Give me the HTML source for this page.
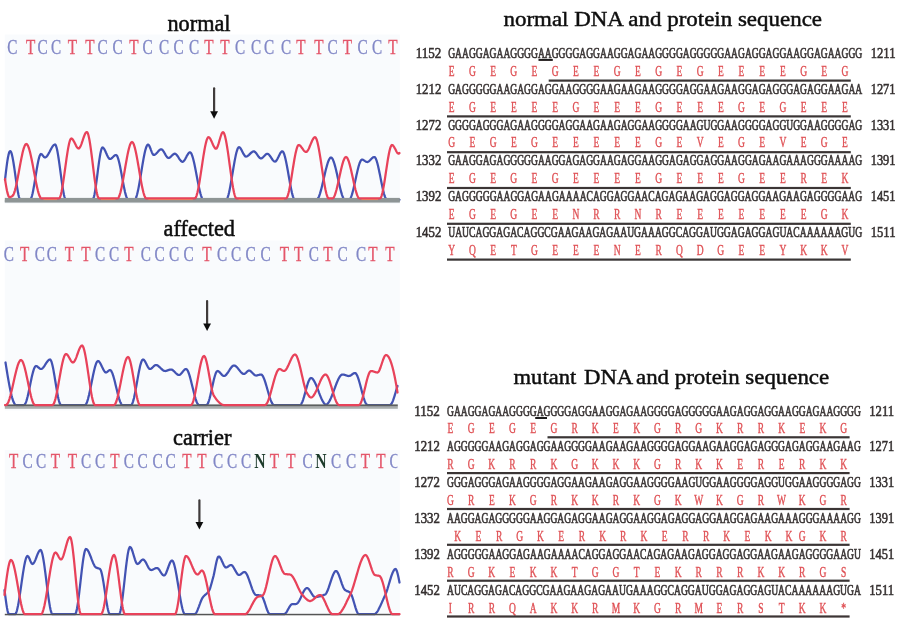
<!DOCTYPE html>
<html><head><meta charset="utf-8"><title>DNA and protein sequence</title>
<style>html,body{margin:0;padding:0;background:#fff}svg{display:block}text{font-family:'Liberation Serif', serif}</style></head><body>
<svg width="900" height="627" viewBox="0 0 900 627">
<rect width="900" height="627" fill="#ffffff"/>
<defs><filter id="soft" x="0" y="0" width="900" height="627" filterUnits="userSpaceOnUse"><feGaussianBlur stdDeviation="0.5"/></filter></defs>
<clipPath id="pc"><rect x="4.8" y="0" width="392.6" height="627"/></clipPath>
<g filter="url(#soft)">
<rect x="4.8" y="34.5" width="395" height="169.5" fill="#f9fbfd"/>
<rect x="4.8" y="240.5" width="395" height="170" fill="#f9fbfd"/>
<rect x="4.8" y="450" width="395" height="165" fill="#f9fbfd"/>
<text x="167.5" y="30.5" font-size="23.5" textLength="63.0" lengthAdjust="spacingAndGlyphs" fill="#111" stroke="#111" stroke-width="0.55">normal</text>
<text x="163.5" y="236.2" font-size="23.5" textLength="71.5" lengthAdjust="spacingAndGlyphs" fill="#111" stroke="#111" stroke-width="0.55">affected</text>
<text x="173" y="445" font-size="23.5" textLength="58.5" lengthAdjust="spacingAndGlyphs" fill="#111" stroke="#111" stroke-width="0.55">carrier</text>
<text x="12.4" y="53.9" font-size="21.8" text-anchor="middle" fill="#8187c6" stroke="#8187c6" stroke-width="0.35" transform="translate(12.4 0) scale(0.7 1) translate(-12.4 0)">C</text>
<text x="30.6" y="53.9" font-size="21.8" text-anchor="middle" fill="#e4566a" stroke="#e4566a" stroke-width="0.35" transform="translate(30.6 0) scale(0.7 1) translate(-30.6 0)">T</text>
<text x="42.5" y="53.9" font-size="21.8" text-anchor="middle" fill="#8187c6" stroke="#8187c6" stroke-width="0.35" transform="translate(42.5 0) scale(0.7 1) translate(-42.5 0)">C</text>
<text x="56" y="53.9" font-size="21.8" text-anchor="middle" fill="#8187c6" stroke="#8187c6" stroke-width="0.35" transform="translate(56 0) scale(0.7 1) translate(-56 0)">C</text>
<text x="72.5" y="53.9" font-size="21.8" text-anchor="middle" fill="#e4566a" stroke="#e4566a" stroke-width="0.35" transform="translate(72.5 0) scale(0.7 1) translate(-72.5 0)">T</text>
<text x="90" y="53.9" font-size="21.8" text-anchor="middle" fill="#e4566a" stroke="#e4566a" stroke-width="0.35" transform="translate(90 0) scale(0.7 1) translate(-90 0)">T</text>
<text x="102.5" y="53.9" font-size="21.8" text-anchor="middle" fill="#8187c6" stroke="#8187c6" stroke-width="0.35" transform="translate(102.5 0) scale(0.7 1) translate(-102.5 0)">C</text>
<text x="117.5" y="53.9" font-size="21.8" text-anchor="middle" fill="#8187c6" stroke="#8187c6" stroke-width="0.35" transform="translate(117.5 0) scale(0.7 1) translate(-117.5 0)">C</text>
<text x="134" y="53.9" font-size="21.8" text-anchor="middle" fill="#e4566a" stroke="#e4566a" stroke-width="0.35" transform="translate(134 0) scale(0.7 1) translate(-134 0)">T</text>
<text x="147.5" y="53.9" font-size="21.8" text-anchor="middle" fill="#8187c6" stroke="#8187c6" stroke-width="0.35" transform="translate(147.5 0) scale(0.7 1) translate(-147.5 0)">C</text>
<text x="164" y="53.9" font-size="21.8" text-anchor="middle" fill="#8187c6" stroke="#8187c6" stroke-width="0.35" transform="translate(164 0) scale(0.7 1) translate(-164 0)">C</text>
<text x="178.5" y="53.9" font-size="21.8" text-anchor="middle" fill="#8187c6" stroke="#8187c6" stroke-width="0.35" transform="translate(178.5 0) scale(0.7 1) translate(-178.5 0)">C</text>
<text x="194" y="53.9" font-size="21.8" text-anchor="middle" fill="#8187c6" stroke="#8187c6" stroke-width="0.35" transform="translate(194 0) scale(0.7 1) translate(-194 0)">C</text>
<text x="209" y="53.9" font-size="21.8" text-anchor="middle" fill="#e4566a" stroke="#e4566a" stroke-width="0.35" transform="translate(209 0) scale(0.7 1) translate(-209 0)">T</text>
<text x="225" y="53.9" font-size="21.8" text-anchor="middle" fill="#e4566a" stroke="#e4566a" stroke-width="0.35" transform="translate(225 0) scale(0.7 1) translate(-225 0)">T</text>
<text x="240" y="53.9" font-size="21.8" text-anchor="middle" fill="#8187c6" stroke="#8187c6" stroke-width="0.35" transform="translate(240 0) scale(0.7 1) translate(-240 0)">C</text>
<text x="256" y="53.9" font-size="21.8" text-anchor="middle" fill="#8187c6" stroke="#8187c6" stroke-width="0.35" transform="translate(256 0) scale(0.7 1) translate(-256 0)">C</text>
<text x="269" y="53.9" font-size="21.8" text-anchor="middle" fill="#8187c6" stroke="#8187c6" stroke-width="0.35" transform="translate(269 0) scale(0.7 1) translate(-269 0)">C</text>
<text x="286" y="53.9" font-size="21.8" text-anchor="middle" fill="#8187c6" stroke="#8187c6" stroke-width="0.35" transform="translate(286 0) scale(0.7 1) translate(-286 0)">C</text>
<text x="301" y="53.9" font-size="21.8" text-anchor="middle" fill="#e4566a" stroke="#e4566a" stroke-width="0.35" transform="translate(301 0) scale(0.7 1) translate(-301 0)">T</text>
<text x="319" y="53.9" font-size="21.8" text-anchor="middle" fill="#e4566a" stroke="#e4566a" stroke-width="0.35" transform="translate(319 0) scale(0.7 1) translate(-319 0)">T</text>
<text x="332.5" y="53.9" font-size="21.8" text-anchor="middle" fill="#8187c6" stroke="#8187c6" stroke-width="0.35" transform="translate(332.5 0) scale(0.7 1) translate(-332.5 0)">C</text>
<text x="347.5" y="53.9" font-size="21.8" text-anchor="middle" fill="#e4566a" stroke="#e4566a" stroke-width="0.35" transform="translate(347.5 0) scale(0.7 1) translate(-347.5 0)">T</text>
<text x="362.5" y="53.9" font-size="21.8" text-anchor="middle" fill="#8187c6" stroke="#8187c6" stroke-width="0.35" transform="translate(362.5 0) scale(0.7 1) translate(-362.5 0)">C</text>
<text x="377" y="53.9" font-size="21.8" text-anchor="middle" fill="#8187c6" stroke="#8187c6" stroke-width="0.35" transform="translate(377 0) scale(0.7 1) translate(-377 0)">C</text>
<text x="393" y="53.9" font-size="21.8" text-anchor="middle" fill="#e4566a" stroke="#e4566a" stroke-width="0.35" transform="translate(393 0) scale(0.7 1) translate(-393 0)">T</text>
<text x="8.9" y="260.7" font-size="21.8" text-anchor="middle" fill="#8187c6" stroke="#8187c6" stroke-width="0.35" transform="translate(8.9 0) scale(0.7 1) translate(-8.9 0)">C</text>
<text x="24.6" y="260.7" font-size="21.8" text-anchor="middle" fill="#e4566a" stroke="#e4566a" stroke-width="0.35" transform="translate(24.6 0) scale(0.7 1) translate(-24.6 0)">T</text>
<text x="39.8" y="260.7" font-size="21.8" text-anchor="middle" fill="#8187c6" stroke="#8187c6" stroke-width="0.35" transform="translate(39.8 0) scale(0.7 1) translate(-39.8 0)">C</text>
<text x="51.8" y="260.7" font-size="21.8" text-anchor="middle" fill="#8187c6" stroke="#8187c6" stroke-width="0.35" transform="translate(51.8 0) scale(0.7 1) translate(-51.8 0)">C</text>
<text x="69.5" y="260.7" font-size="21.8" text-anchor="middle" fill="#e4566a" stroke="#e4566a" stroke-width="0.35" transform="translate(69.5 0) scale(0.7 1) translate(-69.5 0)">T</text>
<text x="86" y="260.7" font-size="21.8" text-anchor="middle" fill="#e4566a" stroke="#e4566a" stroke-width="0.35" transform="translate(86 0) scale(0.7 1) translate(-86 0)">T</text>
<text x="100.2" y="260.7" font-size="21.8" text-anchor="middle" fill="#8187c6" stroke="#8187c6" stroke-width="0.35" transform="translate(100.2 0) scale(0.7 1) translate(-100.2 0)">C</text>
<text x="114" y="260.7" font-size="21.8" text-anchor="middle" fill="#8187c6" stroke="#8187c6" stroke-width="0.35" transform="translate(114 0) scale(0.7 1) translate(-114 0)">C</text>
<text x="129" y="260.7" font-size="21.8" text-anchor="middle" fill="#e4566a" stroke="#e4566a" stroke-width="0.35" transform="translate(129 0) scale(0.7 1) translate(-129 0)">T</text>
<text x="145.8" y="260.7" font-size="21.8" text-anchor="middle" fill="#8187c6" stroke="#8187c6" stroke-width="0.35" transform="translate(145.8 0) scale(0.7 1) translate(-145.8 0)">C</text>
<text x="159.6" y="260.7" font-size="21.8" text-anchor="middle" fill="#8187c6" stroke="#8187c6" stroke-width="0.35" transform="translate(159.6 0) scale(0.7 1) translate(-159.6 0)">C</text>
<text x="174" y="260.7" font-size="21.8" text-anchor="middle" fill="#8187c6" stroke="#8187c6" stroke-width="0.35" transform="translate(174 0) scale(0.7 1) translate(-174 0)">C</text>
<text x="188.6" y="260.7" font-size="21.8" text-anchor="middle" fill="#8187c6" stroke="#8187c6" stroke-width="0.35" transform="translate(188.6 0) scale(0.7 1) translate(-188.6 0)">C</text>
<text x="206.8" y="260.7" font-size="21.8" text-anchor="middle" fill="#e4566a" stroke="#e4566a" stroke-width="0.35" transform="translate(206.8 0) scale(0.7 1) translate(-206.8 0)">T</text>
<text x="222" y="260.7" font-size="21.8" text-anchor="middle" fill="#8187c6" stroke="#8187c6" stroke-width="0.35" transform="translate(222 0) scale(0.7 1) translate(-222 0)">C</text>
<text x="236" y="260.7" font-size="21.8" text-anchor="middle" fill="#8187c6" stroke="#8187c6" stroke-width="0.35" transform="translate(236 0) scale(0.7 1) translate(-236 0)">C</text>
<text x="250.5" y="260.7" font-size="21.8" text-anchor="middle" fill="#8187c6" stroke="#8187c6" stroke-width="0.35" transform="translate(250.5 0) scale(0.7 1) translate(-250.5 0)">C</text>
<text x="265.5" y="260.7" font-size="21.8" text-anchor="middle" fill="#8187c6" stroke="#8187c6" stroke-width="0.35" transform="translate(265.5 0) scale(0.7 1) translate(-265.5 0)">C</text>
<text x="284.5" y="260.7" font-size="21.8" text-anchor="middle" fill="#e4566a" stroke="#e4566a" stroke-width="0.35" transform="translate(284.5 0) scale(0.7 1) translate(-284.5 0)">T</text>
<text x="298.75" y="260.7" font-size="21.8" text-anchor="middle" fill="#e4566a" stroke="#e4566a" stroke-width="0.35" transform="translate(298.75 0) scale(0.7 1) translate(-298.75 0)">T</text>
<text x="313.75" y="260.7" font-size="21.8" text-anchor="middle" fill="#8187c6" stroke="#8187c6" stroke-width="0.35" transform="translate(313.75 0) scale(0.7 1) translate(-313.75 0)">C</text>
<text x="328" y="260.7" font-size="21.8" text-anchor="middle" fill="#e4566a" stroke="#e4566a" stroke-width="0.35" transform="translate(328 0) scale(0.7 1) translate(-328 0)">T</text>
<text x="342.5" y="260.7" font-size="21.8" text-anchor="middle" fill="#8187c6" stroke="#8187c6" stroke-width="0.35" transform="translate(342.5 0) scale(0.7 1) translate(-342.5 0)">C</text>
<text x="361" y="260.7" font-size="21.8" text-anchor="middle" fill="#8187c6" stroke="#8187c6" stroke-width="0.35" transform="translate(361 0) scale(0.7 1) translate(-361 0)">C</text>
<text x="373" y="260.7" font-size="21.8" text-anchor="middle" fill="#e4566a" stroke="#e4566a" stroke-width="0.35" transform="translate(373 0) scale(0.7 1) translate(-373 0)">T</text>
<text x="390" y="260.7" font-size="21.8" text-anchor="middle" fill="#e4566a" stroke="#e4566a" stroke-width="0.35" transform="translate(390 0) scale(0.7 1) translate(-390 0)">T</text>
<g clip-path="url(#pc)">
<text x="13.75" y="468.5" font-size="21.8" text-anchor="middle" fill="#e4566a" stroke="#e4566a" stroke-width="0.35" transform="translate(13.75 0) scale(0.7 1) translate(-13.75 0)">T</text>
<text x="27.5" y="468.5" font-size="21.8" text-anchor="middle" fill="#8187c6" stroke="#8187c6" stroke-width="0.35" transform="translate(27.5 0) scale(0.7 1) translate(-27.5 0)">C</text>
<text x="41" y="468.5" font-size="21.8" text-anchor="middle" fill="#8187c6" stroke="#8187c6" stroke-width="0.35" transform="translate(41 0) scale(0.7 1) translate(-41 0)">C</text>
<text x="55.5" y="468.5" font-size="21.8" text-anchor="middle" fill="#e4566a" stroke="#e4566a" stroke-width="0.35" transform="translate(55.5 0) scale(0.7 1) translate(-55.5 0)">T</text>
<text x="72.5" y="468.5" font-size="21.8" text-anchor="middle" fill="#e4566a" stroke="#e4566a" stroke-width="0.35" transform="translate(72.5 0) scale(0.7 1) translate(-72.5 0)">T</text>
<text x="86" y="468.5" font-size="21.8" text-anchor="middle" fill="#8187c6" stroke="#8187c6" stroke-width="0.35" transform="translate(86 0) scale(0.7 1) translate(-86 0)">C</text>
<text x="100" y="468.5" font-size="21.8" text-anchor="middle" fill="#8187c6" stroke="#8187c6" stroke-width="0.35" transform="translate(100 0) scale(0.7 1) translate(-100 0)">C</text>
<text x="115" y="468.5" font-size="21.8" text-anchor="middle" fill="#e4566a" stroke="#e4566a" stroke-width="0.35" transform="translate(115 0) scale(0.7 1) translate(-115 0)">T</text>
<text x="128.75" y="468.5" font-size="21.8" text-anchor="middle" fill="#8187c6" stroke="#8187c6" stroke-width="0.35" transform="translate(128.75 0) scale(0.7 1) translate(-128.75 0)">C</text>
<text x="142.5" y="468.5" font-size="21.8" text-anchor="middle" fill="#8187c6" stroke="#8187c6" stroke-width="0.35" transform="translate(142.5 0) scale(0.7 1) translate(-142.5 0)">C</text>
<text x="157.5" y="468.5" font-size="21.8" text-anchor="middle" fill="#8187c6" stroke="#8187c6" stroke-width="0.35" transform="translate(157.5 0) scale(0.7 1) translate(-157.5 0)">C</text>
<text x="170.5" y="468.5" font-size="21.8" text-anchor="middle" fill="#8187c6" stroke="#8187c6" stroke-width="0.35" transform="translate(170.5 0) scale(0.7 1) translate(-170.5 0)">C</text>
<text x="187" y="468.5" font-size="21.8" text-anchor="middle" fill="#e4566a" stroke="#e4566a" stroke-width="0.35" transform="translate(187 0) scale(0.7 1) translate(-187 0)">T</text>
<text x="202" y="468.5" font-size="21.8" text-anchor="middle" fill="#e4566a" stroke="#e4566a" stroke-width="0.35" transform="translate(202 0) scale(0.7 1) translate(-202 0)">T</text>
<text x="218" y="468.5" font-size="21.8" text-anchor="middle" fill="#8187c6" stroke="#8187c6" stroke-width="0.35" transform="translate(218 0) scale(0.7 1) translate(-218 0)">C</text>
<text x="232" y="468.5" font-size="21.8" text-anchor="middle" fill="#8187c6" stroke="#8187c6" stroke-width="0.35" transform="translate(232 0) scale(0.7 1) translate(-232 0)">C</text>
<text x="246" y="468.5" font-size="21.8" text-anchor="middle" fill="#8187c6" stroke="#8187c6" stroke-width="0.35" transform="translate(246 0) scale(0.7 1) translate(-246 0)">C</text>
<text x="260" y="468.5" font-size="21.8" text-anchor="middle" fill="#1d3b2c" font-weight="bold" transform="translate(260 0) scale(0.72 1) translate(-260 0)">N</text>
<text x="274.5" y="468.5" font-size="21.8" text-anchor="middle" fill="#e4566a" stroke="#e4566a" stroke-width="0.35" transform="translate(274.5 0) scale(0.7 1) translate(-274.5 0)">T</text>
<text x="291" y="468.5" font-size="21.8" text-anchor="middle" fill="#e4566a" stroke="#e4566a" stroke-width="0.35" transform="translate(291 0) scale(0.7 1) translate(-291 0)">T</text>
<text x="307.5" y="468.5" font-size="21.8" text-anchor="middle" fill="#8187c6" stroke="#8187c6" stroke-width="0.35" transform="translate(307.5 0) scale(0.7 1) translate(-307.5 0)">C</text>
<text x="321" y="468.5" font-size="21.8" text-anchor="middle" fill="#1d3b2c" font-weight="bold" transform="translate(321 0) scale(0.72 1) translate(-321 0)">N</text>
<text x="336" y="468.5" font-size="21.8" text-anchor="middle" fill="#8187c6" stroke="#8187c6" stroke-width="0.35" transform="translate(336 0) scale(0.7 1) translate(-336 0)">C</text>
<text x="351" y="468.5" font-size="21.8" text-anchor="middle" fill="#8187c6" stroke="#8187c6" stroke-width="0.35" transform="translate(351 0) scale(0.7 1) translate(-351 0)">C</text>
<text x="365.5" y="468.5" font-size="21.8" text-anchor="middle" fill="#e4566a" stroke="#e4566a" stroke-width="0.35" transform="translate(365.5 0) scale(0.7 1) translate(-365.5 0)">T</text>
<text x="381" y="468.5" font-size="21.8" text-anchor="middle" fill="#e4566a" stroke="#e4566a" stroke-width="0.35" transform="translate(381 0) scale(0.7 1) translate(-381 0)">T</text>
<text x="394.5" y="468.5" font-size="21.8" text-anchor="middle" fill="#8187c6" stroke="#8187c6" stroke-width="0.35" transform="translate(394.5 0) scale(0.7 1) translate(-394.5 0)">C</text>
</g>
<path d="M214.1,88.3 L214.1,112.8" stroke="#3f3a3a" stroke-width="2.2" stroke-linecap="round" fill="none"/>
<path d="M210.2,111.3 L218.0,111.3 L214.1,118.8 Z" fill="#111"/>
<path d="M207.1,301 L207.1,325" stroke="#3f3a3a" stroke-width="2.2" stroke-linecap="round" fill="none"/>
<path d="M203.2,323.5 L211.0,323.5 L207.1,331 Z" fill="#111"/>
<path d="M199.4,500.4 L199.4,523.5" stroke="#3f3a3a" stroke-width="2.2" stroke-linecap="round" fill="none"/>
<path d="M195.5,522.0 L203.3,522.0 L199.4,529.5 Z" fill="#111"/>
<path d="M5.0,180.0 L5.5,175.6 L6.0,171.3 L6.5,167.3 L7.0,163.6 L7.5,160.2 L8.0,157.3 L8.5,154.9 L9.0,153.0 L9.5,151.7 L10.0,151.1 L10.5,151.1 L11.0,151.8 L11.5,153.1 L12.0,155.0 L12.5,157.2 L13.0,159.9 L13.5,162.8 L14.0,166.0 L14.5,169.4 L15.0,172.9 L15.5,176.5 L16.0,180.0 L16.5,183.4 L17.0,186.7 L17.5,189.8 L18.0,192.6 L18.5,195.0 L19.0,197.0 L19.5,198.5 L20.0,199.5 L20.5,199.8 L21.0,199.8 L21.5,199.8 L22.0,199.8 L22.5,199.8 L23.0,199.8 L23.5,199.8 L24.0,199.8 L24.5,199.8 L25.0,199.8 L25.5,199.8 L26.0,199.8 L26.5,199.8 L27.0,199.8 L27.5,199.8 L28.0,199.8 L28.5,199.8 L29.0,199.8 L29.5,199.8 L30.0,199.8 L30.5,199.5 L31.0,198.7 L31.5,197.5 L32.0,195.8 L32.5,193.8 L33.0,191.4 L33.5,188.8 L34.0,186.0 L34.5,183.1 L35.0,180.0 L35.5,176.9 L36.0,173.8 L36.5,170.7 L37.0,167.8 L37.5,165.0 L38.0,162.4 L38.5,160.0 L39.0,158.0 L39.5,156.3 L40.0,155.1 L40.5,154.3 L41.0,154.0 L41.5,154.2 L42.0,154.5 L42.5,155.1 L43.0,155.8 L43.5,156.4 L44.0,157.0 L44.5,157.3 L45.0,157.5 L45.5,157.4 L46.0,157.1 L46.5,156.7 L47.0,156.1 L47.5,155.5 L48.0,154.7 L48.5,153.8 L49.0,152.9 L49.5,152.0 L50.0,151.0 L50.5,150.0 L51.0,149.1 L51.5,148.2 L52.0,147.3 L52.5,146.5 L53.0,145.9 L53.5,145.3 L54.0,144.9 L54.5,144.6 L55.0,144.5 L55.5,144.8 L56.0,145.8 L56.5,147.3 L57.0,149.3 L57.5,151.8 L58.0,154.6 L58.5,157.7 L59.0,161.1 L59.5,164.7 L60.0,168.4 L60.5,172.2 L61.0,175.9 L61.5,179.6 L62.0,183.2 L62.5,186.6 L63.0,189.7 L63.5,192.5 L64.0,195.0 L64.5,197.0 L65.0,198.5 L65.5,199.5 L66.0,199.8 L66.5,199.8 L67.0,199.8 L67.5,199.8 L68.0,199.8 L68.5,199.8 L69.0,199.8 L69.5,199.8 L70.0,199.8 L70.5,199.8 L71.0,199.8 L71.5,199.8 L72.0,199.8 L72.5,199.8 L73.0,199.8 L73.5,199.8 L74.0,199.8 L74.5,199.8 L75.0,199.8 L75.5,199.8 L76.0,199.8 L76.5,199.8 L77.0,199.8 L77.5,199.8 L78.0,199.8 L78.5,199.8 L79.0,199.8 L79.5,199.8 L80.0,199.8 L80.5,199.8 L81.0,199.8 L81.5,199.8 L82.0,199.8 L82.5,199.8 L83.0,199.8 L83.5,199.8 L84.0,199.8 L84.5,199.8 L85.0,199.8 L85.5,199.8 L86.0,199.8 L86.5,199.8 L87.0,199.8 L87.5,199.8 L88.0,199.8 L88.5,199.8 L89.0,199.8 L89.5,199.8 L90.0,199.8 L90.5,199.8 L91.0,199.8 L91.5,199.8 L92.0,199.8 L92.5,199.8 L93.0,199.4 L93.5,198.3 L94.0,196.6 L94.5,194.4 L95.0,191.6 L95.5,188.5 L96.0,185.1 L96.5,181.4 L97.0,177.6 L97.5,173.6 L98.0,169.7 L98.5,165.9 L99.0,162.2 L99.5,158.8 L100.0,155.7 L100.5,152.9 L101.0,150.7 L101.5,149.0 L102.0,147.9 L102.5,147.5 L103.0,147.6 L103.5,148.1 L104.0,148.7 L104.5,149.5 L105.0,150.5 L105.5,151.5 L106.0,152.7 L106.5,153.8 L107.0,155.0 L107.5,156.0 L108.0,157.0 L108.5,157.8 L109.0,158.4 L109.5,158.9 L110.0,159.0 L110.5,158.9 L111.0,158.7 L111.5,158.4 L112.0,158.0 L112.5,157.5 L113.0,157.0 L113.5,156.5 L114.0,156.0 L114.5,155.6 L115.0,155.3 L115.5,155.1 L116.0,155.0 L116.5,155.2 L117.0,155.8 L117.5,156.8 L118.0,158.2 L118.5,159.8 L119.0,161.7 L119.5,163.8 L120.0,166.1 L120.5,168.6 L121.0,171.2 L121.5,173.9 L122.0,176.6 L122.5,179.3 L123.0,182.0 L123.5,184.7 L124.0,187.2 L124.5,189.6 L125.0,191.9 L125.5,193.9 L126.0,195.7 L126.5,197.2 L127.0,198.4 L127.5,199.3 L128.0,199.7 L128.5,199.8 L129.0,199.8 L129.5,199.8 L130.0,199.8 L130.5,199.8 L131.0,199.8 L131.5,199.8 L132.0,199.8 L132.5,199.8 L133.0,199.8 L133.5,199.8 L134.0,199.8 L134.5,199.8 L135.0,199.6 L135.5,198.9 L136.0,197.9 L136.5,196.5 L137.0,194.8 L137.5,192.8 L138.0,190.6 L138.5,188.1 L139.0,185.5 L139.5,182.7 L140.0,179.8 L140.5,176.8 L141.0,173.7 L141.5,170.7 L142.0,167.6 L142.5,164.6 L143.0,161.7 L143.5,158.9 L144.0,156.3 L144.5,153.8 L145.0,151.6 L145.5,149.6 L146.0,147.9 L146.5,146.5 L147.0,145.5 L147.5,144.8 L148.0,144.6 L148.5,144.8 L149.0,145.4 L149.5,146.3 L150.0,147.5 L150.5,148.7 L151.0,150.1 L151.5,151.4 L152.0,152.6 L152.5,153.7 L153.0,154.5 L153.5,154.9 L154.0,155.0 L154.5,154.9 L155.0,154.6 L155.5,154.2 L156.0,153.8 L156.5,153.3 L157.0,152.7 L157.5,152.2 L158.0,151.6 L158.5,151.0 L159.0,150.5 L159.5,150.1 L160.0,149.7 L160.5,149.4 L161.0,149.3 L161.5,149.3 L162.0,149.6 L162.5,150.0 L163.0,150.6 L163.5,151.3 L164.0,152.2 L164.5,153.0 L165.0,153.9 L165.5,154.8 L166.0,155.6 L166.5,156.4 L167.0,157.0 L167.5,157.6 L168.0,157.9 L168.5,158.0 L169.0,157.9 L169.5,157.7 L170.0,157.4 L170.5,157.0 L171.0,156.5 L171.5,156.0 L172.0,155.5 L172.5,155.0 L173.0,154.6 L173.5,154.2 L174.0,153.9 L174.5,153.7 L175.0,153.7 L175.5,153.9 L176.0,154.2 L176.5,154.7 L177.0,155.3 L177.5,156.0 L178.0,156.7 L178.5,157.5 L179.0,158.3 L179.5,159.1 L180.0,159.8 L180.5,160.4 L181.0,161.0 L181.5,161.4 L182.0,161.7 L182.5,161.8 L183.0,161.7 L183.5,161.3 L184.0,160.8 L184.5,160.1 L185.0,159.3 L185.5,158.5 L186.0,157.5 L186.5,156.6 L187.0,155.6 L187.5,154.8 L188.0,154.0 L188.5,153.3 L189.0,152.8 L189.5,152.4 L190.0,152.3 L190.5,152.5 L191.0,153.0 L191.5,153.9 L192.0,155.1 L192.5,156.6 L193.0,158.3 L193.5,160.2 L194.0,162.3 L194.5,164.6 L195.0,167.0 L195.5,169.5 L196.0,172.1 L196.5,174.7 L197.0,177.4 L197.5,180.0 L198.0,182.6 L198.5,185.1 L199.0,187.5 L199.5,189.8 L200.0,191.9 L200.5,193.8 L201.0,195.5 L201.5,197.0 L202.0,198.2 L202.5,199.1 L203.0,199.6 L203.5,199.8 L204.0,199.8 L204.5,199.8 L205.0,199.8 L205.5,199.8 L206.0,199.8 L206.5,199.8 L207.0,199.8 L207.5,199.8 L208.0,199.8 L208.5,199.8 L209.0,199.8 L209.5,199.8 L210.0,199.8 L210.5,199.8 L211.0,199.8 L211.5,199.8 L212.0,199.8 L212.5,199.8 L213.0,199.8 L213.5,199.8 L214.0,199.8 L214.5,199.8 L215.0,199.8 L215.5,199.8 L216.0,199.8 L216.5,199.8 L217.0,199.8 L217.5,199.8 L218.0,199.8 L218.5,199.8 L219.0,199.8 L219.5,199.8 L220.0,199.8 L220.5,199.8 L221.0,199.8 L221.5,199.8 L222.0,199.8 L222.5,199.8 L223.0,199.8 L223.5,199.8 L224.0,199.8 L224.5,199.8 L225.0,199.8 L225.5,199.8 L226.0,199.8 L226.5,199.6 L227.0,198.9 L227.5,197.9 L228.0,196.4 L228.5,194.7 L229.0,192.7 L229.5,190.4 L230.0,187.9 L230.5,185.3 L231.0,182.4 L231.5,179.5 L232.0,176.5 L232.5,173.5 L233.0,170.5 L233.5,167.5 L234.0,164.6 L234.5,161.7 L235.0,159.1 L235.5,156.6 L236.0,154.3 L236.5,152.3 L237.0,150.6 L237.5,149.1 L238.0,148.1 L238.5,147.4 L239.0,147.2 L239.5,147.3 L240.0,147.7 L240.5,148.3 L241.0,149.1 L241.5,149.9 L242.0,150.9 L242.5,151.9 L243.0,152.9 L243.5,153.9 L244.0,154.7 L244.5,155.5 L245.0,156.1 L245.5,156.5 L246.0,156.6 L246.5,156.5 L247.0,156.4 L247.5,156.1 L248.0,155.7 L248.5,155.3 L249.0,154.9 L249.5,154.4 L250.0,153.9 L250.5,153.4 L251.0,152.9 L251.5,152.5 L252.0,152.1 L252.5,151.8 L253.0,151.5 L253.5,151.4 L254.0,151.4 L254.5,151.6 L255.0,152.0 L255.5,152.4 L256.0,153.0 L256.5,153.7 L257.0,154.4 L257.5,155.1 L258.0,155.8 L258.5,156.5 L259.0,157.1 L259.5,157.6 L260.0,158.0 L260.5,158.3 L261.0,158.4 L261.5,158.3 L262.0,158.1 L262.5,157.7 L263.0,157.3 L263.5,156.8 L264.0,156.3 L264.5,155.7 L265.0,155.2 L265.5,154.7 L266.0,154.3 L266.5,154.0 L267.0,153.8 L267.5,153.8 L268.0,154.0 L268.5,154.3 L269.0,154.8 L269.5,155.3 L270.0,156.0 L270.5,156.7 L271.0,157.5 L271.5,158.2 L272.0,159.0 L272.5,159.7 L273.0,160.3 L273.5,160.8 L274.0,161.2 L274.5,161.5 L275.0,161.6 L275.5,161.5 L276.0,161.1 L276.5,160.5 L277.0,159.7 L277.5,158.8 L278.0,157.8 L278.5,156.8 L279.0,155.7 L279.5,154.7 L280.0,153.7 L280.5,152.9 L281.0,152.2 L281.5,151.6 L282.0,151.4 L282.5,151.3 L283.0,151.7 L283.5,152.5 L284.0,153.7 L284.5,155.2 L285.0,156.9 L285.5,159.0 L286.0,161.3 L286.5,163.7 L287.0,166.3 L287.5,169.0 L288.0,171.8 L288.5,174.7 L289.0,177.6 L289.5,180.4 L290.0,183.2 L290.5,185.8 L291.0,188.4 L291.5,190.8 L292.0,193.0 L292.5,194.9 L293.0,196.6 L293.5,197.9 L294.0,198.9 L294.5,199.6 L295.0,199.8 L295.5,199.8 L296.0,199.8 L296.5,199.8 L297.0,199.8 L297.5,199.8 L298.0,199.8 L298.5,199.8 L299.0,199.8 L299.5,199.8 L300.0,199.8 L300.5,199.8 L301.0,199.8 L301.5,199.8 L302.0,199.8 L302.5,199.8 L303.0,199.8 L303.5,199.8 L304.0,199.8 L304.5,199.8 L305.0,199.8 L305.5,199.8 L306.0,199.8 L306.5,199.8 L307.0,199.8 L307.5,199.8 L308.0,199.8 L308.5,199.8 L309.0,199.8 L309.5,199.8 L310.0,199.8 L310.5,199.8 L311.0,199.8 L311.5,199.8 L312.0,199.8 L312.5,199.8 L313.0,199.8 L313.5,199.8 L314.0,199.8 L314.5,199.8 L315.0,199.8 L315.5,199.8 L316.0,199.8 L316.5,199.8 L317.0,199.7 L317.5,199.2 L318.0,198.5 L318.5,197.6 L319.0,196.5 L319.5,195.1 L320.0,193.6 L320.5,191.9 L321.0,190.1 L321.5,188.2 L322.0,186.2 L322.5,184.1 L323.0,181.9 L323.5,179.7 L324.0,177.6 L324.5,175.4 L325.0,173.2 L325.5,171.1 L326.0,169.1 L326.5,167.2 L327.0,165.4 L327.5,163.7 L328.0,162.2 L328.5,160.8 L329.0,159.7 L329.5,158.8 L330.0,158.1 L330.5,157.6 L331.0,157.5 L331.5,157.7 L332.0,158.1 L332.5,158.9 L333.0,159.8 L333.5,161.1 L334.0,162.5 L334.5,164.1 L335.0,165.9 L335.5,167.8 L336.0,169.8 L336.5,172.0 L337.0,174.1 L337.5,176.4 L338.0,178.7 L338.5,180.9 L339.0,183.2 L339.5,185.3 L340.0,187.5 L340.5,189.5 L341.0,191.4 L341.5,193.2 L342.0,194.8 L342.5,196.2 L343.0,197.5 L343.5,198.4 L344.0,199.2 L344.5,199.6 L345.0,199.8 L345.5,199.8 L346.0,199.8 L346.5,199.8 L347.0,199.8 L347.5,199.8 L348.0,199.8 L348.5,199.8 L349.0,199.8 L349.5,199.6 L350.0,199.1 L350.5,198.3 L351.0,197.2 L351.5,195.9 L352.0,194.4 L352.5,192.6 L353.0,190.7 L353.5,188.7 L354.0,186.5 L354.5,184.3 L355.0,182.0 L355.5,179.7 L356.0,177.4 L356.5,175.1 L357.0,172.9 L357.5,170.7 L358.0,168.7 L358.5,166.8 L359.0,165.0 L359.5,163.5 L360.0,162.2 L360.5,161.1 L361.0,160.3 L361.5,159.8 L362.0,159.6 L362.5,159.7 L363.0,159.8 L363.5,160.1 L364.0,160.4 L364.5,160.7 L365.0,161.1 L365.5,161.4 L366.0,161.7 L366.5,161.9 L367.0,162.0 L367.5,162.0 L368.0,161.8 L368.5,161.6 L369.0,161.2 L369.5,160.8 L370.0,160.3 L370.5,159.8 L371.0,159.2 L371.5,158.7 L372.0,158.2 L372.5,157.8 L373.0,157.4 L373.5,157.2 L374.0,157.0 L374.5,157.0 L375.0,157.4 L375.5,158.1 L376.0,159.1 L376.5,160.4 L377.0,162.0 L377.5,163.8 L378.0,165.8 L378.5,167.9 L379.0,170.2 L379.5,172.7 L380.0,175.1 L380.5,177.6 L381.0,180.2 L381.5,182.7 L382.0,185.1 L382.5,187.5 L383.0,189.7 L383.5,191.8 L384.0,193.8 L384.5,195.5 L385.0,196.9 L385.5,198.1 L386.0,199.0 L386.5,199.6 L387.0,199.8 L387.5,199.8 L388.0,199.8 L388.5,199.8 L389.0,199.8 L389.5,199.8 L390.0,199.8 L390.5,199.8 L391.0,199.8 L391.5,199.8 L392.0,199.8 L392.5,199.8 L393.0,199.8 L393.5,199.8 L394.0,199.8 L394.5,199.8 L395.0,199.8 L395.5,199.8 L396.0,199.8 L396.5,199.8 L397.0,199.8 L397.5,199.8 L398.0,199.8 L398.5,199.8 L399.0,199.8 L399.5,199.8" fill="none" stroke="#4353b3" stroke-width="2.25" stroke-linejoin="round" stroke-linecap="round"/>
<rect x="4.8" y="197.9" width="395" height="4.5" fill="#8e9595"/>
<path d="M43.5,199.6 L57.0,199.6 M101.0,199.6 L115.5,199.6 M148.3,199.6 L192.8,199.6 M238.5,199.6 L284.0,199.6 M330.8,199.6 L330.5,199.6 M361.5,199.6 L378.0,199.6" fill="none" stroke="#f3a95c" stroke-width="1.2"/>
<path d="M5.0,179.0 L5.5,182.3 L6.0,185.4 L6.5,188.2 L7.0,190.7 L7.5,192.9 L8.0,194.7 L8.5,196.1 L9.0,196.9 L9.5,197.2 L10.0,197.1 L10.5,197.0 L11.0,196.8 L11.5,196.5 L12.0,196.2 L12.5,195.9 L13.0,195.4 L13.5,194.6 L14.0,193.4 L14.5,192.0 L15.0,190.3 L15.5,188.4 L16.0,186.3 L16.5,184.0 L17.0,181.6 L17.5,179.0 L18.0,176.4 L18.5,173.7 L19.0,171.0 L19.5,168.3 L20.0,165.5 L20.5,162.9 L21.0,160.3 L21.5,157.7 L22.0,155.4 L22.5,153.1 L23.0,151.1 L23.5,149.2 L24.0,147.6 L24.5,146.3 L25.0,145.2 L25.5,144.5 L26.0,144.1 L26.5,144.0 L27.0,144.3 L27.5,145.0 L28.0,145.9 L28.5,147.1 L29.0,148.5 L29.5,150.2 L30.0,152.1 L30.5,154.2 L31.0,156.4 L31.5,158.7 L32.0,161.2 L32.5,163.8 L33.0,166.4 L33.5,169.1 L34.0,171.7 L34.5,174.4 L35.0,177.1 L35.5,179.7 L36.0,182.2 L36.5,184.6 L37.0,186.9 L37.5,189.1 L38.0,191.1 L38.5,192.9 L39.0,194.5 L39.5,195.8 L40.0,196.9 L40.5,197.7 L41.0,198.2 L41.5,198.4 L42.0,198.4 L42.5,198.4 L43.0,198.4 L43.5,198.4 L44.0,198.4 L44.5,198.4 L45.0,198.4 L45.5,198.4 L46.0,198.4 L46.5,198.4 L47.0,198.4 L47.5,198.4 L48.0,198.4 L48.5,198.4 L49.0,198.4 L49.5,198.4 L50.0,198.4 L50.5,198.4 L51.0,198.4 L51.5,198.4 L52.0,198.4 L52.5,198.4 L53.0,198.4 L53.5,198.4 L54.0,198.4 L54.5,198.4 L55.0,198.4 L55.5,198.4 L56.0,198.4 L56.5,198.4 L57.0,198.4 L57.5,198.4 L58.0,198.4 L58.5,198.4 L59.0,198.4 L59.5,198.1 L60.0,197.3 L60.5,195.9 L61.0,194.2 L61.5,192.0 L62.0,189.4 L62.5,186.6 L63.0,183.5 L63.5,180.2 L64.0,176.8 L64.5,173.2 L65.0,169.5 L65.5,165.9 L66.0,162.3 L66.5,158.7 L67.0,155.3 L67.5,152.1 L68.0,149.1 L68.5,146.4 L69.0,144.0 L69.5,142.0 L70.0,140.4 L70.5,139.2 L71.0,138.6 L71.5,138.5 L72.0,138.8 L72.5,139.2 L73.0,139.9 L73.5,140.7 L74.0,141.6 L74.5,142.6 L75.0,143.6 L75.5,144.6 L76.0,145.6 L76.5,146.5 L77.0,147.3 L77.5,147.9 L78.0,148.3 L78.5,148.5 L79.0,148.4 L79.5,147.9 L80.0,147.2 L80.5,146.3 L81.0,145.1 L81.5,143.8 L82.0,142.3 L82.5,140.9 L83.0,139.3 L83.5,137.9 L84.0,136.5 L84.5,135.2 L85.0,134.0 L85.5,133.1 L86.0,132.4 L86.5,132.1 L87.0,132.1 L87.5,132.6 L88.0,133.8 L88.5,135.5 L89.0,137.7 L89.5,140.3 L90.0,143.3 L90.5,146.6 L91.0,150.2 L91.5,154.0 L92.0,157.9 L92.5,161.9 L93.0,166.0 L93.5,170.1 L94.0,174.1 L94.5,178.0 L95.0,181.7 L95.5,185.1 L96.0,188.3 L96.5,191.2 L97.0,193.6 L97.5,195.6 L98.0,197.1 L98.5,198.1 L99.0,198.4 L99.5,198.4 L100.0,198.4 L100.5,198.4 L101.0,198.4 L101.5,198.4 L102.0,198.4 L102.5,198.4 L103.0,198.4 L103.5,198.4 L104.0,198.4 L104.5,198.4 L105.0,198.4 L105.5,198.4 L106.0,198.4 L106.5,198.4 L107.0,198.4 L107.5,198.4 L108.0,198.4 L108.5,198.4 L109.0,198.4 L109.5,198.4 L110.0,198.4 L110.5,198.4 L111.0,198.4 L111.5,198.4 L112.0,198.4 L112.5,198.4 L113.0,198.4 L113.5,198.4 L114.0,198.4 L114.5,198.4 L115.0,198.4 L115.5,198.4 L116.0,198.4 L116.5,198.4 L117.0,198.4 L117.5,198.4 L118.0,198.2 L118.5,197.6 L119.0,196.7 L119.5,195.5 L120.0,193.9 L120.5,192.2 L121.0,190.1 L121.5,187.9 L122.0,185.5 L122.5,182.9 L123.0,180.2 L123.5,177.4 L124.0,174.6 L124.5,171.7 L125.0,168.7 L125.5,165.8 L126.0,163.0 L126.5,160.2 L127.0,157.5 L127.5,154.9 L128.0,152.5 L128.5,150.3 L129.0,148.2 L129.5,146.5 L130.0,144.9 L130.5,143.7 L131.0,142.8 L131.5,142.2 L132.0,142.0 L132.5,142.2 L133.0,142.8 L133.5,143.7 L134.0,145.0 L134.5,146.6 L135.0,148.4 L135.5,150.5 L136.0,152.8 L136.5,155.2 L137.0,157.9 L137.5,160.6 L138.0,163.5 L138.5,166.4 L139.0,169.3 L139.5,172.3 L140.0,175.2 L140.5,178.1 L141.0,180.9 L141.5,183.6 L142.0,186.2 L142.5,188.6 L143.0,190.8 L143.5,192.8 L144.0,194.5 L144.5,195.9 L145.0,197.1 L145.5,197.9 L146.0,198.3 L146.5,198.4 L147.0,198.4 L147.5,198.4 L148.0,198.4 L148.5,198.4 L149.0,198.4 L149.5,198.4 L150.0,198.4 L150.5,198.4 L151.0,198.4 L151.5,198.4 L152.0,198.4 L152.5,198.4 L153.0,198.4 L153.5,198.4 L154.0,198.4 L154.5,198.4 L155.0,198.4 L155.5,198.4 L156.0,198.4 L156.5,198.4 L157.0,198.4 L157.5,198.4 L158.0,198.4 L158.5,198.4 L159.0,198.4 L159.5,198.4 L160.0,198.4 L160.5,198.4 L161.0,198.4 L161.5,198.4 L162.0,198.4 L162.5,198.4 L163.0,198.4 L163.5,198.4 L164.0,198.4 L164.5,198.4 L165.0,198.4 L165.5,198.4 L166.0,198.4 L166.5,198.4 L167.0,198.4 L167.5,198.4 L168.0,198.4 L168.5,198.4 L169.0,198.4 L169.5,198.4 L170.0,198.4 L170.5,198.4 L171.0,198.4 L171.5,198.4 L172.0,198.4 L172.5,198.4 L173.0,198.4 L173.5,198.4 L174.0,198.4 L174.5,198.4 L175.0,198.4 L175.5,198.4 L176.0,198.4 L176.5,198.4 L177.0,198.4 L177.5,198.4 L178.0,198.4 L178.5,198.4 L179.0,198.4 L179.5,198.4 L180.0,198.4 L180.5,198.4 L181.0,198.4 L181.5,198.4 L182.0,198.4 L182.5,198.4 L183.0,198.4 L183.5,198.4 L184.0,198.4 L184.5,198.4 L185.0,198.4 L185.5,198.4 L186.0,198.4 L186.5,198.4 L187.0,198.4 L187.5,198.4 L188.0,198.4 L188.5,198.4 L189.0,198.4 L189.5,198.4 L190.0,198.4 L190.5,198.4 L191.0,198.4 L191.5,198.4 L192.0,198.4 L192.5,198.4 L193.0,198.4 L193.5,198.4 L194.0,198.4 L194.5,198.4 L195.0,198.4 L195.5,197.9 L196.0,197.1 L196.5,195.8 L197.0,194.2 L197.5,192.2 L198.0,189.9 L198.5,187.4 L199.0,184.7 L199.5,181.7 L200.0,178.6 L200.5,175.4 L201.0,172.1 L201.5,168.8 L202.0,165.5 L202.5,162.1 L203.0,158.9 L203.5,155.7 L204.0,152.7 L204.5,149.8 L205.0,147.1 L205.5,144.7 L206.0,142.6 L206.5,140.7 L207.0,139.2 L207.5,138.1 L208.0,137.4 L208.5,137.2 L209.0,137.3 L209.5,137.8 L210.0,138.4 L210.5,139.2 L211.0,140.2 L211.5,141.2 L212.0,142.4 L212.5,143.5 L213.0,144.7 L213.5,145.7 L214.0,146.7 L214.5,147.5 L215.0,148.1 L215.5,148.6 L216.0,148.7 L216.5,148.5 L217.0,147.8 L217.5,146.8 L218.0,145.4 L218.5,143.9 L219.0,142.2 L219.5,140.4 L220.0,138.7 L220.5,137.0 L221.0,135.5 L221.5,134.1 L222.0,133.1 L222.5,132.4 L223.0,132.2 L223.5,132.5 L224.0,133.2 L224.5,134.5 L225.0,136.1 L225.5,138.2 L226.0,140.6 L226.5,143.2 L227.0,146.2 L227.5,149.4 L228.0,152.7 L228.5,156.2 L229.0,159.8 L229.5,163.5 L230.0,167.1 L230.5,170.8 L231.0,174.4 L231.5,177.9 L232.0,181.2 L232.5,184.4 L233.0,187.4 L233.5,190.0 L234.0,192.4 L234.5,194.5 L235.0,196.1 L235.5,197.4 L236.0,198.1 L236.5,198.4 L237.0,198.4 L237.5,198.4 L238.0,198.4 L238.5,198.4 L239.0,198.4 L239.5,198.4 L240.0,198.4 L240.5,198.4 L241.0,198.4 L241.5,198.4 L242.0,198.4 L242.5,198.4 L243.0,198.4 L243.5,198.4 L244.0,198.4 L244.5,198.4 L245.0,198.4 L245.5,198.4 L246.0,198.4 L246.5,198.4 L247.0,198.4 L247.5,198.4 L248.0,198.4 L248.5,198.4 L249.0,198.4 L249.5,198.4 L250.0,198.4 L250.5,198.4 L251.0,198.4 L251.5,198.4 L252.0,198.4 L252.5,198.4 L253.0,198.4 L253.5,198.4 L254.0,198.4 L254.5,198.4 L255.0,198.4 L255.5,198.4 L256.0,198.4 L256.5,198.4 L257.0,198.4 L257.5,198.4 L258.0,198.4 L258.5,198.4 L259.0,198.4 L259.5,198.4 L260.0,198.4 L260.5,198.4 L261.0,198.4 L261.5,198.4 L262.0,198.4 L262.5,198.4 L263.0,198.4 L263.5,198.4 L264.0,198.4 L264.5,198.4 L265.0,198.4 L265.5,198.4 L266.0,198.4 L266.5,198.4 L267.0,198.4 L267.5,198.4 L268.0,198.4 L268.5,198.4 L269.0,198.4 L269.5,198.4 L270.0,198.4 L270.5,198.4 L271.0,198.4 L271.5,198.4 L272.0,198.4 L272.5,198.4 L273.0,198.4 L273.5,198.4 L274.0,198.4 L274.5,198.4 L275.0,198.4 L275.5,198.4 L276.0,198.4 L276.5,198.4 L277.0,198.4 L277.5,198.4 L278.0,198.4 L278.5,198.4 L279.0,198.4 L279.5,198.4 L280.0,198.4 L280.5,198.4 L281.0,198.4 L281.5,198.4 L282.0,198.4 L282.5,198.4 L283.0,198.4 L283.5,198.4 L284.0,198.4 L284.5,198.4 L285.0,198.4 L285.5,198.4 L286.0,198.4 L286.5,198.2 L287.0,197.5 L287.5,196.4 L288.0,194.9 L288.5,193.0 L289.0,190.9 L289.5,188.5 L290.0,185.9 L290.5,183.1 L291.0,180.2 L291.5,177.2 L292.0,174.1 L292.5,170.9 L293.0,167.8 L293.5,164.7 L294.0,161.7 L294.5,158.8 L295.0,156.1 L295.5,153.6 L296.0,151.4 L296.5,149.4 L297.0,147.7 L297.5,146.4 L298.0,145.5 L298.5,145.1 L299.0,145.0 L299.5,145.2 L300.0,145.6 L300.5,146.0 L301.0,146.6 L301.5,147.3 L302.0,148.0 L302.5,148.7 L303.0,149.4 L303.5,150.1 L304.0,150.7 L304.5,151.2 L305.0,151.6 L305.5,151.9 L306.0,152.0 L306.5,151.9 L307.0,151.5 L307.5,150.9 L308.0,150.1 L308.5,149.2 L309.0,148.2 L309.5,147.0 L310.0,145.8 L310.5,144.6 L311.0,143.4 L311.5,142.2 L312.0,141.0 L312.5,140.0 L313.0,139.1 L313.5,138.3 L314.0,137.7 L314.5,137.3 L315.0,137.2 L315.5,137.4 L316.0,138.1 L316.5,139.2 L317.0,140.7 L317.5,142.5 L318.0,144.7 L318.5,147.1 L319.0,149.7 L319.5,152.6 L320.0,155.6 L320.5,158.7 L321.0,162.0 L321.5,165.3 L322.0,168.6 L322.5,172.0 L323.0,175.2 L323.5,178.4 L324.0,181.5 L324.5,184.5 L325.0,187.2 L325.5,189.8 L326.0,192.0 L326.5,194.0 L327.0,195.7 L327.5,197.0 L328.0,197.9 L328.5,198.3 L329.0,198.4 L329.5,198.4 L330.0,198.4 L330.5,198.4 L331.0,198.4 L331.5,198.4 L332.0,198.4 L332.5,198.4 L333.0,198.2 L333.5,197.8 L334.0,197.0 L334.5,195.9 L335.0,194.7 L335.5,193.2 L336.0,191.5 L336.5,189.7 L337.0,187.7 L337.5,185.6 L338.0,183.4 L338.5,181.1 L339.0,178.8 L339.5,176.6 L340.0,174.3 L340.5,172.0 L341.0,169.8 L341.5,167.7 L342.0,165.7 L342.5,163.9 L343.0,162.2 L343.5,160.7 L344.0,159.5 L344.5,158.4 L345.0,157.6 L345.5,157.2 L346.0,157.0 L346.5,157.2 L347.0,157.6 L347.5,158.4 L348.0,159.5 L348.5,160.7 L349.0,162.2 L349.5,163.9 L350.0,165.7 L350.5,167.7 L351.0,169.8 L351.5,172.0 L352.0,174.3 L352.5,176.6 L353.0,178.8 L353.5,181.1 L354.0,183.4 L354.5,185.6 L355.0,187.7 L355.5,189.7 L356.0,191.5 L356.5,193.2 L357.0,194.7 L357.5,195.9 L358.0,197.0 L358.5,197.8 L359.0,198.2 L359.5,198.4 L360.0,198.4 L360.5,198.4 L361.0,198.4 L361.5,198.4 L362.0,198.4 L362.5,198.4 L363.0,198.4 L363.5,198.4 L364.0,198.4 L364.5,198.4 L365.0,198.4 L365.5,198.4 L366.0,198.4 L366.5,198.4 L367.0,198.4 L367.5,198.4 L368.0,198.4 L368.5,198.4 L369.0,198.4 L369.5,198.4 L370.0,198.4 L370.5,198.4 L371.0,198.4 L371.5,198.4 L372.0,198.4 L372.5,198.4 L373.0,198.4 L373.5,198.4 L374.0,198.4 L374.5,198.4 L375.0,198.4 L375.5,198.4 L376.0,198.4 L376.5,198.4 L377.0,198.4 L377.5,198.4 L378.0,198.4 L378.5,198.4 L379.0,198.4 L379.5,198.4 L380.0,198.4 L380.5,198.1 L381.0,197.3 L381.5,196.1 L382.0,194.4 L382.5,192.4 L383.0,190.1 L383.5,187.4 L384.0,184.6 L384.5,181.5 L385.0,178.3 L385.5,175.0 L386.0,171.7 L386.5,168.4 L387.0,165.1 L387.5,161.9 L388.0,158.8 L388.5,156.0 L389.0,153.3 L389.5,151.0 L390.0,149.0 L390.5,147.3 L391.0,146.1 L391.5,145.3 L392.0,145.0 L392.5,145.1 L393.0,145.5 L393.5,146.1 L394.0,146.8 L394.5,147.7 L395.0,148.6 L395.5,149.6 L396.0,150.6 L396.5,151.5 L397.0,152.3 L397.5,153.0 L398.0,153.4 L398.5,153.7 L399.0,153.6 L399.5,153.0" fill="none" stroke="#e8425a" stroke-width="2.25" stroke-linejoin="round" stroke-linecap="round"/>
<rect x="4.8" y="200.0" width="395" height="2.4" fill="#8e9595" opacity="0.75"/>
<path d="M5.5,362.5 L6.0,365.7 L6.5,368.8 L7.0,371.8 L7.5,374.9 L8.0,377.8 L8.5,380.6 L9.0,383.4 L9.5,386.0 L10.0,388.6 L10.5,390.9 L11.0,393.2 L11.5,395.3 L12.0,397.2 L12.5,398.9 L13.0,400.5 L13.5,401.8 L14.0,402.9 L14.5,403.8 L15.0,404.5 L15.5,404.9 L16.0,405.0 L16.5,405.0 L17.0,405.0 L17.5,405.0 L18.0,405.0 L18.5,405.0 L19.0,405.0 L19.5,405.0 L20.0,405.0 L20.5,405.0 L21.0,405.0 L21.5,405.0 L22.0,405.0 L22.5,405.0 L23.0,405.0 L23.5,405.0 L24.0,405.0 L24.5,404.8 L25.0,404.2 L25.5,403.3 L26.0,402.1 L26.5,400.6 L27.0,398.9 L27.5,397.0 L28.0,394.9 L28.5,392.7 L29.0,390.3 L29.5,387.9 L30.0,385.5 L30.5,383.1 L31.0,380.7 L31.5,378.3 L32.0,376.1 L32.5,374.0 L33.0,372.1 L33.5,370.4 L34.0,368.9 L34.5,367.7 L35.0,366.8 L35.5,366.2 L36.0,366.0 L36.5,366.1 L37.0,366.3 L37.5,366.6 L38.0,367.1 L38.5,367.5 L39.0,367.9 L39.5,368.4 L40.0,368.7 L40.5,368.9 L41.0,369.0 L41.5,368.9 L42.0,368.7 L42.5,368.3 L43.0,367.8 L43.5,367.2 L44.0,366.5 L44.5,365.8 L45.0,365.0 L45.5,364.2 L46.0,363.5 L46.5,362.7 L47.0,362.0 L47.5,361.3 L48.0,360.7 L48.5,360.2 L49.0,359.8 L49.5,359.6 L50.0,359.5 L50.5,359.8 L51.0,360.6 L51.5,361.8 L52.0,363.5 L52.5,365.5 L53.0,367.8 L53.5,370.4 L54.0,373.2 L54.5,376.1 L55.0,379.2 L55.5,382.2 L56.0,385.3 L56.5,388.4 L57.0,391.3 L57.5,394.1 L58.0,396.7 L58.5,399.0 L59.0,401.0 L59.5,402.7 L60.0,403.9 L60.5,404.7 L61.0,405.0 L61.5,405.0 L62.0,405.0 L62.5,405.0 L63.0,405.0 L63.5,405.0 L64.0,405.0 L64.5,405.0 L65.0,405.0 L65.5,405.0 L66.0,405.0 L66.5,405.0 L67.0,405.0 L67.5,405.0 L68.0,405.0 L68.5,405.0 L69.0,405.0 L69.5,405.0 L70.0,405.0 L70.5,405.0 L71.0,405.0 L71.5,405.0 L72.0,405.0 L72.5,405.0 L73.0,405.0 L73.5,405.0 L74.0,405.0 L74.5,405.0 L75.0,405.0 L75.5,405.0 L76.0,405.0 L76.5,405.0 L77.0,405.0 L77.5,405.0 L78.0,405.0 L78.5,405.0 L79.0,405.0 L79.5,405.0 L80.0,405.0 L80.5,405.0 L81.0,405.0 L81.5,405.0 L82.0,405.0 L82.5,405.0 L83.0,405.0 L83.5,405.0 L84.0,405.0 L84.5,405.0 L85.0,405.0 L85.5,404.8 L86.0,404.3 L86.5,403.4 L87.0,402.2 L87.5,400.7 L88.0,399.1 L88.5,397.1 L89.0,395.1 L89.5,392.8 L90.0,390.5 L90.5,388.0 L91.0,385.5 L91.5,383.0 L92.0,380.5 L92.5,378.0 L93.0,375.5 L93.5,373.2 L94.0,370.9 L94.5,368.9 L95.0,366.9 L95.5,365.3 L96.0,363.8 L96.5,362.6 L97.0,361.7 L97.5,361.2 L98.0,361.0 L98.5,361.1 L99.0,361.5 L99.5,362.1 L100.0,362.8 L100.5,363.7 L101.0,364.6 L101.5,365.7 L102.0,366.8 L102.5,367.8 L103.0,368.9 L103.5,369.8 L104.0,370.7 L104.5,371.4 L105.0,372.0 L105.5,372.4 L106.0,372.5 L106.5,372.4 L107.0,372.1 L107.5,371.7 L108.0,371.2 L108.5,370.8 L109.0,370.4 L109.5,370.1 L110.0,370.0 L110.5,370.2 L111.0,370.6 L111.5,371.4 L112.0,372.4 L112.5,373.6 L113.0,375.1 L113.5,376.7 L114.0,378.5 L114.5,380.3 L115.0,382.3 L115.5,384.4 L116.0,386.5 L116.5,388.5 L117.0,390.6 L117.5,392.7 L118.0,394.7 L118.5,396.5 L119.0,398.3 L119.5,399.9 L120.0,401.4 L120.5,402.6 L121.0,403.6 L121.5,404.4 L122.0,404.8 L122.5,405.0 L123.0,405.0 L123.5,405.0 L124.0,405.0 L124.5,405.0 L125.0,405.0 L125.5,405.0 L126.0,405.0 L126.5,405.0 L127.0,405.0 L127.5,405.0 L128.0,405.0 L128.5,405.0 L129.0,405.0 L129.5,405.0 L130.0,405.0 L130.5,405.0 L131.0,405.0 L131.5,404.8 L132.0,404.1 L132.5,403.0 L133.0,401.6 L133.5,399.9 L134.0,397.9 L134.5,395.6 L135.0,393.2 L135.5,390.6 L136.0,387.9 L136.5,385.1 L137.0,382.2 L137.5,379.4 L138.0,376.6 L138.5,373.9 L139.0,371.3 L139.5,368.9 L140.0,366.6 L140.5,364.6 L141.0,362.9 L141.5,361.5 L142.0,360.4 L142.5,359.7 L143.0,359.5 L143.5,359.6 L144.0,360.0 L144.5,360.6 L145.0,361.4 L145.5,362.3 L146.0,363.2 L146.5,364.2 L147.0,365.3 L147.5,366.2 L148.0,367.1 L148.5,367.9 L149.0,368.5 L149.5,368.9 L150.0,369.0 L150.5,368.9 L151.0,368.7 L151.5,368.4 L152.0,368.0 L152.5,367.5 L153.0,367.0 L153.5,366.5 L154.0,366.0 L154.5,365.6 L155.0,365.3 L155.5,365.1 L156.0,365.0 L156.5,365.1 L157.0,365.2 L157.5,365.4 L158.0,365.8 L158.5,366.1 L159.0,366.6 L159.5,367.0 L160.0,367.5 L160.5,368.0 L161.0,368.5 L161.5,369.0 L162.0,369.4 L162.5,369.9 L163.0,370.2 L163.5,370.6 L164.0,370.8 L164.5,370.9 L165.0,371.0 L165.5,371.0 L166.0,370.9 L166.5,370.8 L167.0,370.6 L167.5,370.4 L168.0,370.2 L168.5,370.1 L169.0,369.9 L169.5,369.7 L170.0,369.6 L170.5,369.5 L171.0,369.5 L171.5,369.6 L172.0,369.7 L172.5,370.0 L173.0,370.4 L173.5,370.8 L174.0,371.2 L174.5,371.7 L175.0,372.2 L175.5,372.8 L176.0,373.3 L176.5,373.7 L177.0,374.1 L177.5,374.5 L178.0,374.8 L178.5,374.9 L179.0,375.0 L179.5,374.9 L180.0,374.7 L180.5,374.3 L181.0,373.8 L181.5,373.3 L182.0,372.6 L182.5,372.0 L183.0,371.4 L183.5,370.7 L184.0,370.2 L184.5,369.7 L185.0,369.3 L185.5,369.1 L186.0,369.0 L186.5,369.2 L187.0,369.6 L187.5,370.3 L188.0,371.3 L188.5,372.5 L189.0,373.9 L189.5,375.4 L190.0,377.1 L190.5,379.0 L191.0,380.9 L191.5,382.9 L192.0,384.9 L192.5,387.0 L193.0,389.1 L193.5,391.1 L194.0,393.1 L194.5,395.0 L195.0,396.9 L195.5,398.6 L196.0,400.1 L196.5,401.5 L197.0,402.7 L197.5,403.7 L198.0,404.4 L198.5,404.8 L199.0,405.0 L199.5,405.0 L200.0,405.0 L200.5,405.0 L201.0,405.0 L201.5,405.0 L202.0,405.0 L202.5,405.0 L203.0,405.0 L203.5,405.0 L204.0,405.0 L204.5,405.0 L205.0,405.0 L205.5,405.0 L206.0,405.0 L206.5,405.0 L207.0,404.8 L207.5,404.2 L208.0,403.3 L208.5,402.0 L209.0,400.5 L209.5,398.8 L210.0,396.9 L210.5,394.8 L211.0,392.6 L211.5,390.3 L212.0,388.0 L212.5,385.7 L213.0,383.4 L213.5,381.2 L214.0,379.1 L214.5,377.2 L215.0,375.5 L215.5,374.0 L216.0,372.7 L216.5,371.8 L217.0,371.2 L217.5,371.0 L218.0,371.1 L218.5,371.3 L219.0,371.7 L219.5,372.1 L220.0,372.6 L220.5,373.2 L221.0,373.8 L221.5,374.4 L222.0,374.9 L222.5,375.3 L223.0,375.7 L223.5,375.9 L224.0,376.0 L224.5,375.9 L225.0,375.7 L225.5,375.4 L226.0,374.9 L226.5,374.4 L227.0,373.7 L227.5,373.0 L228.0,372.3 L228.5,371.5 L229.0,370.8 L229.5,370.0 L230.0,369.2 L230.5,368.5 L231.0,367.8 L231.5,367.1 L232.0,366.6 L232.5,366.1 L233.0,365.8 L233.5,365.6 L234.0,365.5 L234.5,365.6 L235.0,365.7 L235.5,366.0 L236.0,366.4 L236.5,366.8 L237.0,367.3 L237.5,367.9 L238.0,368.5 L238.5,369.1 L239.0,369.8 L239.5,370.4 L240.0,371.0 L240.5,371.6 L241.0,372.2 L241.5,372.7 L242.0,373.1 L242.5,373.5 L243.0,373.8 L243.5,373.9 L244.0,374.0 L244.5,373.9 L245.0,373.6 L245.5,373.2 L246.0,372.8 L246.5,372.2 L247.0,371.7 L247.5,371.3 L248.0,370.9 L248.5,370.6 L249.0,370.5 L249.5,370.6 L250.0,370.8 L250.5,371.1 L251.0,371.5 L251.5,372.0 L252.0,372.5 L252.5,373.0 L253.0,373.5 L253.5,374.0 L254.0,374.5 L254.5,374.9 L255.0,375.2 L255.5,375.4 L256.0,375.5 L256.5,375.5 L257.0,375.4 L257.5,375.3 L258.0,375.1 L258.5,375.0 L259.0,374.9 L259.5,374.7 L260.0,374.6 L260.5,374.5 L261.0,374.5 L261.5,374.6 L262.0,375.0 L262.5,375.6 L263.0,376.4 L263.5,377.5 L264.0,378.6 L264.5,379.9 L265.0,381.4 L265.5,382.9 L266.0,384.6 L266.5,386.3 L267.0,388.0 L267.5,389.8 L268.0,391.5 L268.5,393.2 L269.0,394.9 L269.5,396.6 L270.0,398.1 L270.5,399.6 L271.0,400.9 L271.5,402.0 L272.0,403.1 L272.5,403.9 L273.0,404.5 L273.5,404.9 L274.0,405.0 L274.5,405.0 L275.0,405.0 L275.5,405.0 L276.0,405.0 L276.5,405.0 L277.0,405.0 L277.5,405.0 L278.0,405.0 L278.5,405.0 L279.0,405.0 L279.5,405.0 L280.0,405.0 L280.5,405.0 L281.0,405.0 L281.5,405.0 L282.0,405.0 L282.5,405.0 L283.0,405.0 L283.5,405.0 L284.0,405.0 L284.5,405.0 L285.0,405.0 L285.5,405.0 L286.0,405.0 L286.5,405.0 L287.0,405.0 L287.5,405.0 L288.0,405.0 L288.5,405.0 L289.0,405.0 L289.5,405.0 L290.0,405.0 L290.5,405.0 L291.0,405.0 L291.5,405.0 L292.0,405.0 L292.5,405.0 L293.0,405.0 L293.5,405.0 L294.0,405.0 L294.5,405.0 L295.0,405.0 L295.5,405.0 L296.0,405.0 L296.5,405.0 L297.0,405.0 L297.5,405.0 L298.0,405.0 L298.5,405.0 L299.0,405.0 L299.5,405.0 L300.0,405.0 L300.5,404.8 L301.0,404.4 L301.5,403.6 L302.0,402.6 L302.5,401.5 L303.0,400.1 L303.5,398.5 L304.0,396.9 L304.5,395.1 L305.0,393.3 L305.5,391.5 L306.0,389.7 L306.5,387.9 L307.0,386.1 L307.5,384.5 L308.0,382.9 L308.5,381.5 L309.0,380.4 L309.5,379.4 L310.0,378.6 L310.5,378.2 L311.0,378.0 L311.5,378.1 L312.0,378.3 L312.5,378.7 L313.0,379.3 L313.5,380.0 L314.0,380.8 L314.5,381.7 L315.0,382.6 L315.5,383.7 L316.0,384.9 L316.5,386.1 L317.0,387.3 L317.5,388.6 L318.0,389.9 L318.5,391.2 L319.0,392.6 L319.5,393.9 L320.0,395.2 L320.5,396.4 L321.0,397.6 L321.5,398.8 L322.0,399.9 L322.5,400.8 L323.0,401.7 L323.5,402.5 L324.0,403.2 L324.5,403.8 L325.0,404.2 L325.5,404.4 L326.0,404.5 L326.5,404.4 L327.0,404.2 L327.5,403.8 L328.0,403.3 L328.5,402.6 L329.0,401.9 L329.5,401.0 L330.0,400.1 L330.5,399.0 L331.0,397.9 L331.5,396.7 L332.0,395.5 L332.5,394.2 L333.0,392.9 L333.5,391.5 L334.0,390.2 L334.5,388.8 L335.0,387.5 L335.5,386.1 L336.0,384.8 L336.5,383.5 L337.0,382.3 L337.5,381.1 L338.0,380.0 L338.5,378.9 L339.0,378.0 L339.5,377.1 L340.0,376.4 L340.5,375.7 L341.0,375.2 L341.5,374.8 L342.0,374.6 L342.5,374.5 L343.0,374.5 L343.5,374.6 L344.0,374.7 L344.5,374.8 L345.0,375.0 L345.5,375.2 L346.0,375.3 L346.5,375.5 L347.0,375.7 L347.5,375.8 L348.0,375.9 L348.5,376.0 L349.0,376.0 L349.5,375.9 L350.0,375.8 L350.5,375.5 L351.0,375.2 L351.5,374.9 L352.0,374.5 L352.5,374.1 L353.0,373.8 L353.5,373.5 L354.0,373.2 L354.5,373.1 L355.0,373.0 L355.5,373.1 L356.0,373.6 L356.5,374.3 L357.0,375.2 L357.5,376.3 L358.0,377.6 L358.5,379.1 L359.0,380.7 L359.5,382.5 L360.0,384.3 L360.5,386.1 L361.0,388.0 L361.5,390.0 L362.0,391.9 L362.5,393.7 L363.0,395.5 L363.5,397.3 L364.0,398.9 L364.5,400.4 L365.0,401.7 L365.5,402.8 L366.0,403.7 L366.5,404.4 L367.0,404.9 L367.5,405.0 L368.0,405.0 L368.5,405.0 L369.0,405.0 L369.5,405.0 L370.0,405.0 L370.5,405.0 L371.0,405.0 L371.5,405.0 L372.0,405.0 L372.5,405.0 L373.0,405.0 L373.5,405.0 L374.0,405.0 L374.5,405.0 L375.0,405.0 L375.5,405.0 L376.0,405.0 L376.5,405.0 L377.0,405.0 L377.5,405.0 L378.0,405.0 L378.5,405.0 L379.0,405.0 L379.5,405.0 L380.0,405.0 L380.5,405.0 L381.0,405.0 L381.5,405.0 L382.0,405.0 L382.5,405.0 L383.0,405.0 L383.5,405.0 L384.0,405.0 L384.5,405.0 L385.0,405.0 L385.5,405.0 L386.0,405.0 L386.5,405.0 L387.0,405.0 L387.5,405.0 L388.0,405.0 L388.5,405.0 L389.0,405.0 L389.5,405.0 L390.0,405.0 L390.5,404.9 L391.0,404.4 L391.5,403.8 L392.0,402.9 L392.5,401.8 L393.0,400.6 L393.5,399.2 L394.0,397.7 L394.5,396.1 L395.0,394.4 L395.5,392.7 L396.0,391.0 L396.5,389.3 L397.0,387.6 L397.5,386.0" fill="none" stroke="#4353b3" stroke-width="2.25" stroke-linejoin="round" stroke-linecap="round"/>
<rect x="4.8" y="404.4" width="393" height="2.2" fill="#5c5f5f"/>
<rect x="4.8" y="406.6" width="393" height="2.2" fill="#a9adad"/>
<path d="M5.0,405.0 L5.5,405.0 L6.0,405.0 L6.5,404.9 L7.0,404.4 L7.5,403.7 L8.0,402.8 L8.5,401.7 L9.0,400.3 L9.5,398.8 L10.0,397.1 L10.5,395.3 L11.0,393.3 L11.5,391.3 L12.0,389.2 L12.5,387.0 L13.0,384.7 L13.5,382.5 L14.0,380.3 L14.5,378.0 L15.0,375.8 L15.5,373.7 L16.0,371.7 L16.5,369.7 L17.0,367.9 L17.5,366.2 L18.0,364.7 L18.5,363.3 L19.0,362.2 L19.5,361.3 L20.0,360.6 L20.5,360.1 L21.0,360.0 L21.5,360.2 L22.0,360.7 L22.5,361.4 L23.0,362.5 L23.5,363.8 L24.0,365.3 L24.5,367.0 L25.0,368.9 L25.5,371.0 L26.0,373.1 L26.5,375.4 L27.0,377.7 L27.5,380.1 L28.0,382.5 L28.5,384.9 L29.0,387.3 L29.5,389.6 L30.0,391.9 L30.5,394.0 L31.0,396.1 L31.5,398.0 L32.0,399.7 L32.5,401.2 L33.0,402.5 L33.5,403.6 L34.0,404.3 L34.5,404.8 L35.0,405.0 L35.5,405.0 L36.0,405.0 L36.5,405.0 L37.0,405.0 L37.5,405.0 L38.0,405.0 L38.5,405.0 L39.0,405.0 L39.5,405.0 L40.0,405.0 L40.5,405.0 L41.0,405.0 L41.5,405.0 L42.0,405.0 L42.5,405.0 L43.0,405.0 L43.5,405.0 L44.0,405.0 L44.5,405.0 L45.0,405.0 L45.5,405.0 L46.0,405.0 L46.5,405.0 L47.0,405.0 L47.5,405.0 L48.0,405.0 L48.5,405.0 L49.0,405.0 L49.5,405.0 L50.0,405.0 L50.5,405.0 L51.0,405.0 L51.5,405.0 L52.0,405.0 L52.5,405.0 L53.0,404.8 L53.5,404.2 L54.0,403.3 L54.5,402.0 L55.0,400.4 L55.5,398.6 L56.0,396.5 L56.5,394.2 L57.0,391.8 L57.5,389.2 L58.0,386.5 L58.5,383.7 L59.0,380.9 L59.5,378.1 L60.0,375.3 L60.5,372.5 L61.0,369.8 L61.5,367.2 L62.0,364.8 L62.5,362.5 L63.0,360.4 L63.5,358.6 L64.0,357.0 L64.5,355.7 L65.0,354.8 L65.5,354.2 L66.0,354.0 L66.5,354.1 L67.0,354.5 L67.5,355.0 L68.0,355.7 L68.5,356.5 L69.0,357.3 L69.5,358.2 L70.0,359.2 L70.5,360.0 L71.0,360.8 L71.5,361.5 L72.0,362.0 L72.5,362.4 L73.0,362.5 L73.5,362.3 L74.0,361.9 L74.5,361.2 L75.0,360.4 L75.5,359.3 L76.0,358.1 L76.5,356.8 L77.0,355.4 L77.5,354.0 L78.0,352.6 L78.5,351.2 L79.0,349.9 L79.5,348.7 L80.0,347.6 L80.5,346.8 L81.0,346.1 L81.5,345.7 L82.0,345.5 L82.5,345.8 L83.0,346.5 L83.5,347.7 L84.0,349.3 L84.5,351.3 L85.0,353.5 L85.5,356.1 L86.0,358.9 L86.5,362.0 L87.0,365.1 L87.5,368.4 L88.0,371.8 L88.5,375.2 L89.0,378.7 L89.5,382.1 L90.0,385.4 L90.5,388.5 L91.0,391.6 L91.5,394.4 L92.0,397.0 L92.5,399.2 L93.0,401.2 L93.5,402.8 L94.0,404.0 L94.5,404.7 L95.0,405.0 L95.5,405.0 L96.0,405.0 L96.5,405.0 L97.0,405.0 L97.5,405.0 L98.0,405.0 L98.5,405.0 L99.0,405.0 L99.5,405.0 L100.0,405.0 L100.5,405.0 L101.0,405.0 L101.5,405.0 L102.0,405.0 L102.5,405.0 L103.0,405.0 L103.5,405.0 L104.0,405.0 L104.5,405.0 L105.0,405.0 L105.5,405.0 L106.0,405.0 L106.5,405.0 L107.0,405.0 L107.5,405.0 L108.0,405.0 L108.5,405.0 L109.0,405.0 L109.5,405.0 L110.0,405.0 L110.5,405.0 L111.0,405.0 L111.5,405.0 L112.0,405.0 L112.5,405.0 L113.0,405.0 L113.5,405.0 L114.0,405.0 L114.5,404.8 L115.0,404.3 L115.5,403.5 L116.0,402.3 L116.5,401.0 L117.0,399.3 L117.5,397.5 L118.0,395.5 L118.5,393.3 L119.0,391.0 L119.5,388.6 L120.0,386.1 L120.5,383.6 L121.0,381.0 L121.5,378.4 L122.0,375.9 L122.5,373.4 L123.0,371.0 L123.5,368.7 L124.0,366.5 L124.5,364.5 L125.0,362.7 L125.5,361.0 L126.0,359.7 L126.5,358.5 L127.0,357.7 L127.5,357.2 L128.0,357.0 L128.5,357.2 L129.0,357.9 L129.5,359.1 L130.0,360.6 L130.5,362.4 L131.0,364.5 L131.5,366.9 L132.0,369.4 L132.5,372.2 L133.0,375.1 L133.5,378.0 L134.0,381.0 L134.5,384.0 L135.0,386.9 L135.5,389.8 L136.0,392.6 L136.5,395.1 L137.0,397.5 L137.5,399.6 L138.0,401.4 L138.5,402.9 L139.0,404.1 L139.5,404.8 L140.0,405.0 L140.5,405.0 L141.0,405.0 L141.5,405.0 L142.0,405.0 L142.5,405.0 L143.0,405.0 L143.5,405.0 L144.0,405.0 L144.5,405.0 L145.0,405.0 L145.5,405.0 L146.0,405.0 L146.5,405.0 L147.0,405.0 L147.5,405.0 L148.0,405.0 L148.5,405.0 L149.0,405.0 L149.5,405.0 L150.0,405.0 L150.5,405.0 L151.0,405.0 L151.5,405.0 L152.0,405.0 L152.5,405.0 L153.0,405.0 L153.5,405.0 L154.0,405.0 L154.5,405.0 L155.0,405.0 L155.5,405.0 L156.0,405.0 L156.5,405.0 L157.0,405.0 L157.5,405.0 L158.0,405.0 L158.5,405.0 L159.0,405.0 L159.5,405.0 L160.0,405.0 L160.5,405.0 L161.0,405.0 L161.5,405.0 L162.0,405.0 L162.5,405.0 L163.0,405.0 L163.5,405.0 L164.0,405.0 L164.5,405.0 L165.0,405.0 L165.5,405.0 L166.0,405.0 L166.5,405.0 L167.0,405.0 L167.5,405.0 L168.0,405.0 L168.5,405.0 L169.0,405.0 L169.5,405.0 L170.0,405.0 L170.5,405.0 L171.0,405.0 L171.5,405.0 L172.0,405.0 L172.5,405.0 L173.0,405.0 L173.5,405.0 L174.0,405.0 L174.5,405.0 L175.0,405.0 L175.5,405.0 L176.0,405.0 L176.5,405.0 L177.0,405.0 L177.5,405.0 L178.0,405.0 L178.5,405.0 L179.0,405.0 L179.5,405.0 L180.0,405.0 L180.5,405.0 L181.0,405.0 L181.5,405.0 L182.0,405.0 L182.5,405.0 L183.0,405.0 L183.5,405.0 L184.0,405.0 L184.5,405.0 L185.0,405.0 L185.5,405.0 L186.0,405.0 L186.5,405.0 L187.0,405.0 L187.5,405.0 L188.0,405.0 L188.5,405.0 L189.0,405.0 L189.5,405.0 L190.0,405.0 L190.5,405.0 L191.0,405.0 L191.5,404.8 L192.0,404.2 L192.5,403.2 L193.0,401.9 L193.5,400.3 L194.0,398.4 L194.5,396.3 L195.0,393.9 L195.5,391.5 L196.0,388.8 L196.5,386.1 L197.0,383.3 L197.5,380.5 L198.0,377.7 L198.5,374.9 L199.0,372.2 L199.5,369.5 L200.0,367.1 L200.5,364.7 L201.0,362.6 L201.5,360.7 L202.0,359.1 L202.5,357.8 L203.0,356.8 L203.5,356.2 L204.0,356.0 L204.5,356.3 L205.0,357.0 L205.5,358.1 L206.0,359.7 L206.5,361.6 L207.0,363.7 L207.5,366.1 L208.0,368.7 L208.5,371.4 L209.0,374.2 L209.5,377.0 L210.0,379.8 L210.5,382.6 L211.0,385.2 L211.5,387.7 L212.0,390.0 L212.5,392.0 L213.0,393.7 L213.5,395.0 L214.0,396.0 L214.5,396.7 L215.0,397.4 L215.5,398.1 L216.0,398.8 L216.5,399.5 L217.0,400.1 L217.5,400.7 L218.0,401.3 L218.5,401.8 L219.0,402.3 L219.5,402.8 L220.0,403.2 L220.5,403.6 L221.0,404.0 L221.5,404.3 L222.0,404.5 L222.5,404.7 L223.0,404.9 L223.5,405.0 L224.0,405.0 L224.5,405.0 L225.0,405.0 L225.5,405.0 L226.0,405.0 L226.5,405.0 L227.0,405.0 L227.5,405.0 L228.0,405.0 L228.5,405.0 L229.0,405.0 L229.5,405.0 L230.0,405.0 L230.5,405.0 L231.0,405.0 L231.5,405.0 L232.0,405.0 L232.5,405.0 L233.0,405.0 L233.5,405.0 L234.0,405.0 L234.5,405.0 L235.0,405.0 L235.5,405.0 L236.0,405.0 L236.5,405.0 L237.0,405.0 L237.5,405.0 L238.0,405.0 L238.5,405.0 L239.0,405.0 L239.5,405.0 L240.0,405.0 L240.5,405.0 L241.0,405.0 L241.5,405.0 L242.0,405.0 L242.5,405.0 L243.0,405.0 L243.5,405.0 L244.0,405.0 L244.5,405.0 L245.0,405.0 L245.5,405.0 L246.0,405.0 L246.5,405.0 L247.0,405.0 L247.5,405.0 L248.0,405.0 L248.5,405.0 L249.0,405.0 L249.5,405.0 L250.0,405.0 L250.5,405.0 L251.0,405.0 L251.5,405.0 L252.0,405.0 L252.5,405.0 L253.0,405.0 L253.5,405.0 L254.0,405.0 L254.5,405.0 L255.0,405.0 L255.5,405.0 L256.0,405.0 L256.5,405.0 L257.0,405.0 L257.5,405.0 L258.0,405.0 L258.5,405.0 L259.0,405.0 L259.5,405.0 L260.0,405.0 L260.5,405.0 L261.0,405.0 L261.5,405.0 L262.0,405.0 L262.5,405.0 L263.0,405.0 L263.5,405.0 L264.0,405.0 L264.5,405.0 L265.0,405.0 L265.5,404.9 L266.0,404.5 L266.5,403.9 L267.0,403.1 L267.5,402.2 L268.0,401.0 L268.5,399.7 L269.0,398.3 L269.5,396.8 L270.0,395.1 L270.5,393.4 L271.0,391.6 L271.5,389.8 L272.0,387.9 L272.5,386.1 L273.0,384.2 L273.5,382.4 L274.0,380.6 L274.5,378.9 L275.0,377.2 L275.5,375.7 L276.0,374.3 L276.5,373.0 L277.0,371.8 L277.5,370.9 L278.0,370.1 L278.5,369.5 L279.0,369.1 L279.5,369.0 L280.0,369.1 L280.5,369.3 L281.0,369.5 L281.5,369.8 L282.0,370.2 L282.5,370.5 L283.0,370.7 L283.5,370.9 L284.0,371.0 L284.5,370.9 L285.0,370.6 L285.5,370.2 L286.0,369.6 L286.5,368.8 L287.0,368.0 L287.5,367.1 L288.0,366.0 L288.5,365.0 L289.0,363.9 L289.5,362.8 L290.0,361.6 L290.5,360.5 L291.0,359.5 L291.5,358.4 L292.0,357.5 L292.5,356.7 L293.0,355.9 L293.5,355.3 L294.0,354.9 L294.5,354.6 L295.0,354.5 L295.5,354.7 L296.0,355.1 L296.5,355.9 L297.0,356.8 L297.5,358.1 L298.0,359.5 L298.5,361.1 L299.0,362.8 L299.5,364.7 L300.0,366.7 L300.5,368.8 L301.0,371.0 L301.5,373.2 L302.0,375.4 L302.5,377.6 L303.0,379.8 L303.5,381.9 L304.0,383.9 L304.5,385.9 L305.0,387.7 L305.5,389.3 L306.0,390.8 L306.5,392.1 L307.0,393.2 L307.5,394.0 L308.0,394.7 L308.5,395.4 L309.0,396.1 L309.5,396.6 L310.0,397.1 L310.5,397.4 L311.0,397.5 L311.5,397.4 L312.0,397.2 L312.5,396.8 L313.0,396.3 L313.5,395.7 L314.0,395.0 L314.5,394.1 L315.0,393.2 L315.5,392.2 L316.0,391.2 L316.5,390.1 L317.0,388.9 L317.5,387.8 L318.0,386.6 L318.5,385.4 L319.0,384.2 L319.5,383.1 L320.0,381.9 L320.5,380.8 L321.0,379.8 L321.5,378.8 L322.0,377.9 L322.5,377.0 L323.0,376.3 L323.5,375.7 L324.0,375.2 L324.5,374.8 L325.0,374.6 L325.5,374.5 L326.0,374.6 L326.5,375.0 L327.0,375.5 L327.5,376.3 L328.0,377.3 L328.5,378.3 L329.0,379.6 L329.5,380.9 L330.0,382.4 L330.5,384.0 L331.0,385.6 L331.5,387.2 L332.0,388.9 L332.5,390.6 L333.0,392.3 L333.5,393.9 L334.0,395.5 L334.5,397.1 L335.0,398.6 L335.5,399.9 L336.0,401.2 L336.5,402.2 L337.0,403.2 L337.5,404.0 L338.0,404.5 L338.5,404.9 L339.0,405.0 L339.5,405.0 L340.0,405.0 L340.5,405.0 L341.0,405.0 L341.5,405.0 L342.0,405.0 L342.5,405.0 L343.0,405.0 L343.5,405.0 L344.0,405.0 L344.5,405.0 L345.0,405.0 L345.5,405.0 L346.0,405.0 L346.5,405.0 L347.0,405.0 L347.5,405.0 L348.0,405.0 L348.5,405.0 L349.0,405.0 L349.5,405.0 L350.0,405.0 L350.5,405.0 L351.0,405.0 L351.5,405.0 L352.0,405.0 L352.5,405.0 L353.0,405.0 L353.5,405.0 L354.0,405.0 L354.5,405.0 L355.0,405.0 L355.5,405.0 L356.0,405.0 L356.5,405.0 L357.0,405.0 L357.5,405.0 L358.0,405.0 L358.5,405.0 L359.0,405.0 L359.5,404.8 L360.0,404.3 L360.5,403.5 L361.0,402.5 L361.5,401.2 L362.0,399.7 L362.5,398.0 L363.0,396.2 L363.5,394.2 L364.0,392.2 L364.5,390.1 L365.0,388.0 L365.5,385.9 L366.0,383.8 L366.5,381.8 L367.0,379.8 L367.5,378.0 L368.0,376.3 L368.5,374.8 L369.0,373.5 L369.5,372.5 L370.0,371.7 L370.5,371.2 L371.0,371.0 L371.5,371.0 L372.0,371.1 L372.5,371.2 L373.0,371.3 L373.5,371.5 L374.0,371.7 L374.5,371.8 L375.0,372.0 L375.5,372.2 L376.0,372.3 L376.5,372.4 L377.0,372.5 L377.5,372.5 L378.0,372.3 L378.5,371.8 L379.0,371.1 L379.5,370.0 L380.0,368.8 L380.5,367.5 L381.0,366.0 L381.5,364.5 L382.0,363.0 L382.5,361.5 L383.0,360.0 L383.5,358.7 L384.0,357.5 L384.5,356.4 L385.0,355.7 L385.5,355.2 L386.0,355.0 L386.5,355.1 L387.0,355.3 L387.5,355.7 L388.0,356.2 L388.5,356.9 L389.0,357.7 L389.5,358.6 L390.0,359.7 L390.5,361.0 L391.0,362.3 L391.5,363.9 L392.0,365.5 L392.5,367.3 L393.0,369.2 L393.5,371.3 L394.0,373.5 L394.5,375.8 L395.0,378.3 L395.5,380.9 L396.0,383.6 L396.5,386.4 L397.0,389.4 L397.5,392.5" fill="none" stroke="#e8425a" stroke-width="2.25" stroke-linejoin="round" stroke-linecap="round"/>
<path d="M4.5,590.0 L5.0,593.9 L5.5,597.7 L6.0,601.4 L6.5,604.8 L7.0,607.9 L7.5,610.5 L8.0,612.5 L8.5,613.7 L9.0,614.2 L9.5,614.2 L10.0,614.2 L10.5,614.2 L11.0,614.2 L11.5,614.2 L12.0,614.2 L12.5,614.2 L13.0,614.2 L13.5,614.2 L14.0,614.2 L14.5,614.2 L15.0,614.2 L15.5,613.9 L16.0,613.1 L16.5,611.9 L17.0,610.2 L17.5,608.1 L18.0,605.8 L18.5,603.1 L19.0,600.1 L19.5,597.0 L20.0,593.7 L20.5,590.3 L21.0,586.8 L21.5,583.4 L22.0,579.9 L22.5,576.5 L23.0,573.2 L23.5,570.1 L24.0,567.1 L24.5,564.4 L25.0,562.1 L25.5,560.0 L26.0,558.3 L26.5,557.1 L27.0,556.3 L27.5,556.0 L28.0,556.2 L28.5,556.8 L29.0,557.7 L29.5,558.8 L30.0,560.0 L30.5,561.2 L31.0,562.3 L31.5,563.2 L32.0,563.8 L32.5,564.0 L33.0,563.8 L33.5,563.4 L34.0,562.7 L34.5,561.8 L35.0,560.8 L35.5,559.6 L36.0,558.3 L36.5,557.0 L37.0,555.7 L37.5,554.4 L38.0,553.2 L38.5,552.2 L39.0,551.3 L39.5,550.6 L40.0,550.2 L40.5,550.0 L41.0,550.3 L41.5,551.3 L42.0,552.8 L42.5,554.8 L43.0,557.2 L43.5,560.0 L44.0,563.2 L44.5,566.6 L45.0,570.3 L45.5,574.1 L46.0,578.1 L46.5,582.1 L47.0,586.1 L47.5,590.1 L48.0,593.9 L48.5,597.6 L49.0,601.0 L49.5,604.2 L50.0,607.0 L50.5,609.4 L51.0,611.4 L51.5,612.9 L52.0,613.9 L52.5,614.2 L53.0,614.2 L53.5,614.2 L54.0,614.2 L54.5,614.2 L55.0,614.2 L55.5,614.2 L56.0,614.2 L56.5,614.2 L57.0,614.2 L57.5,614.2 L58.0,614.2 L58.5,614.2 L59.0,614.2 L59.5,614.2 L60.0,614.2 L60.5,614.2 L61.0,614.2 L61.5,614.2 L62.0,614.2 L62.5,614.2 L63.0,614.2 L63.5,614.2 L64.0,614.2 L64.5,614.2 L65.0,614.2 L65.5,614.2 L66.0,614.2 L66.5,614.2 L67.0,614.2 L67.5,614.2 L68.0,614.2 L68.5,614.2 L69.0,614.2 L69.5,614.2 L70.0,614.2 L70.5,614.2 L71.0,614.2 L71.5,614.2 L72.0,614.2 L72.5,614.2 L73.0,614.2 L73.5,614.2 L74.0,614.2 L74.5,614.2 L75.0,614.2 L75.5,613.8 L76.0,612.7 L76.5,610.9 L77.0,608.5 L77.5,605.6 L78.0,602.3 L78.5,598.6 L79.0,594.6 L79.5,590.4 L80.0,586.0 L80.5,581.6 L81.0,577.2 L81.5,572.8 L82.0,568.6 L82.5,564.6 L83.0,560.9 L83.5,557.6 L84.0,554.7 L84.5,552.3 L85.0,550.5 L85.5,549.4 L86.0,549.0 L86.5,549.1 L87.0,549.5 L87.5,550.0 L88.0,550.7 L88.5,551.6 L89.0,552.6 L89.5,553.8 L90.0,555.0 L90.5,556.2 L91.0,557.5 L91.5,558.9 L92.0,560.2 L92.5,561.4 L93.0,562.7 L93.5,563.8 L94.0,564.8 L94.5,565.8 L95.0,566.5 L95.5,567.1 L96.0,567.5 L96.5,567.7 L97.0,567.9 L97.5,568.1 L98.0,568.2 L98.5,568.4 L99.0,568.5 L99.5,568.7 L100.0,569.0 L100.5,569.6 L101.0,570.8 L101.5,572.4 L102.0,574.5 L102.5,576.9 L103.0,579.7 L103.5,582.6 L104.0,585.8 L104.5,589.1 L105.0,592.4 L105.5,595.7 L106.0,598.9 L106.5,602.0 L107.0,604.8 L107.5,607.4 L108.0,609.7 L108.5,611.6 L109.0,613.0 L109.5,613.9 L110.0,614.2 L110.5,614.2 L111.0,614.2 L111.5,614.2 L112.0,614.2 L112.5,614.2 L113.0,614.2 L113.5,614.2 L114.0,614.2 L114.5,614.2 L115.0,614.2 L115.5,614.2 L116.0,614.2 L116.5,614.2 L117.0,614.2 L117.5,614.2 L118.0,614.2 L118.5,614.2 L119.0,614.2 L119.5,613.8 L120.0,612.6 L120.5,610.8 L121.0,608.3 L121.5,605.4 L122.0,601.9 L122.5,598.1 L123.0,594.0 L123.5,589.7 L124.0,585.2 L124.5,580.6 L125.0,576.0 L125.5,571.5 L126.0,567.2 L126.5,563.1 L127.0,559.3 L127.5,555.8 L128.0,552.9 L128.5,550.4 L129.0,548.6 L129.5,547.4 L130.0,547.0 L130.5,547.2 L131.0,547.8 L131.5,548.8 L132.0,550.0 L132.5,551.4 L133.0,553.0 L133.5,554.7 L134.0,556.3 L134.5,558.0 L135.0,559.6 L135.5,561.0 L136.0,562.2 L136.5,563.2 L137.0,563.8 L137.5,564.0 L138.0,563.9 L138.5,563.6 L139.0,563.2 L139.5,562.6 L140.0,562.1 L140.5,561.4 L141.0,560.9 L141.5,560.3 L142.0,559.9 L142.5,559.6 L143.0,559.5 L143.5,559.6 L144.0,560.0 L144.5,560.5 L145.0,561.1 L145.5,561.9 L146.0,562.8 L146.5,563.8 L147.0,564.8 L147.5,565.7 L148.0,566.7 L148.5,567.6 L149.0,568.4 L149.5,569.0 L150.0,569.5 L150.5,569.9 L151.0,570.0 L151.5,570.0 L152.0,569.9 L152.5,569.7 L153.0,569.5 L153.5,569.2 L154.0,569.0 L154.5,568.8 L155.0,568.5 L155.5,568.3 L156.0,568.1 L156.5,568.0 L157.0,568.0 L157.5,568.1 L158.0,568.4 L158.5,568.9 L159.0,569.5 L159.5,570.2 L160.0,571.0 L160.5,571.8 L161.0,572.5 L161.5,573.3 L162.0,574.0 L162.5,574.6 L163.0,575.1 L163.5,575.4 L164.0,575.5 L164.5,575.3 L165.0,574.9 L165.5,574.1 L166.0,573.2 L166.5,572.0 L167.0,570.8 L167.5,569.4 L168.0,568.0 L168.5,566.6 L169.0,565.2 L169.5,564.0 L170.0,562.8 L170.5,561.9 L171.0,561.1 L171.5,560.7 L172.0,560.5 L172.5,560.7 L173.0,561.4 L173.5,562.5 L174.0,563.9 L174.5,565.7 L175.0,567.8 L175.5,570.1 L176.0,572.6 L176.5,575.3 L177.0,578.2 L177.5,581.2 L178.0,584.3 L178.5,587.4 L179.0,590.4 L179.5,593.5 L180.0,596.5 L180.5,599.4 L181.0,602.1 L181.5,604.6 L182.0,606.9 L182.5,609.0 L183.0,610.8 L183.5,612.2 L184.0,613.3 L184.5,614.0 L185.0,614.2 L185.5,614.2 L186.0,614.2 L186.5,614.2 L187.0,614.2 L187.5,614.2 L188.0,614.2 L188.5,614.2 L189.0,614.2 L189.5,614.2 L190.0,614.2 L190.5,614.2 L191.0,614.2 L191.5,614.2 L192.0,614.2 L192.5,614.2 L193.0,614.2 L193.5,614.2 L194.0,614.2 L194.5,614.2 L195.0,614.1 L195.5,613.7 L196.0,613.1 L196.5,612.3 L197.0,611.3 L197.5,610.2 L198.0,608.9 L198.5,607.6 L199.0,606.3 L199.5,604.9 L200.0,603.6 L200.5,602.2 L201.0,601.0 L201.5,599.8 L202.0,598.7 L202.5,597.9 L203.0,597.1 L203.5,596.5 L204.0,596.0 L204.5,595.5 L205.0,595.0 L205.5,594.6 L206.0,594.2 L206.5,593.8 L207.0,593.3 L207.5,592.8 L208.0,592.2 L208.5,591.5 L209.0,590.8 L209.5,589.8 L210.0,588.6 L210.5,587.0 L211.0,585.3 L211.5,583.5 L212.0,581.7 L212.5,579.8 L213.0,578.0 L213.5,576.1 L214.0,573.9 L214.5,571.5 L215.0,569.0 L215.5,566.4 L216.0,564.0 L216.5,561.8 L217.0,559.8 L217.5,558.2 L218.0,557.0 L218.5,556.5 L219.0,556.5 L219.5,556.8 L220.0,557.3 L220.5,558.1 L221.0,559.0 L221.5,560.0 L222.0,561.2 L222.5,562.3 L223.0,563.4 L223.5,564.5 L224.0,565.5 L224.5,566.3 L225.0,566.9 L225.5,567.4 L226.0,567.5 L226.5,567.4 L227.0,567.2 L227.5,567.0 L228.0,566.6 L228.5,566.2 L229.0,565.9 L229.5,565.5 L230.0,565.3 L230.5,565.1 L231.0,565.0 L231.5,565.1 L232.0,565.4 L232.5,565.9 L233.0,566.6 L233.5,567.3 L234.0,568.2 L234.5,569.1 L235.0,570.0 L235.5,570.9 L236.0,571.8 L236.5,572.7 L237.0,573.4 L237.5,574.1 L238.0,574.6 L238.5,574.9 L239.0,575.0 L239.5,574.9 L240.0,574.7 L240.5,574.5 L241.0,574.1 L241.5,573.7 L242.0,573.3 L242.5,572.9 L243.0,572.5 L243.5,572.3 L244.0,572.1 L244.5,572.0 L245.0,572.1 L245.5,572.5 L246.0,573.0 L246.5,573.8 L247.0,574.7 L247.5,575.8 L248.0,577.0 L248.5,578.3 L249.0,579.6 L249.5,581.1 L250.0,582.5 L250.5,584.0 L251.0,585.5 L251.5,586.9 L252.0,588.3 L252.5,589.6 L253.0,590.8 L253.5,592.0 L254.0,592.9 L254.5,593.7 L255.0,594.4 L255.5,594.8 L256.0,595.0 L256.5,595.1 L257.0,595.1 L257.5,595.2 L258.0,595.2 L258.5,595.2 L259.0,595.3 L259.5,595.3 L260.0,595.4 L260.5,595.4 L261.0,595.5 L261.5,595.7 L262.0,596.3 L262.5,597.1 L263.0,598.1 L263.5,599.3 L264.0,600.6 L264.5,602.0 L265.0,603.5 L265.5,605.0 L266.0,606.6 L266.5,608.1 L267.0,609.5 L267.5,610.8 L268.0,611.9 L268.5,612.9 L269.0,613.6 L269.5,614.0 L270.0,614.2 L270.5,614.2 L271.0,614.2 L271.5,614.2 L272.0,614.2 L272.5,614.2 L273.0,614.2 L273.5,614.2 L274.0,614.2 L274.5,614.2 L275.0,614.2 L275.5,614.2 L276.0,614.2 L276.5,614.2 L277.0,614.2 L277.5,614.2 L278.0,614.2 L278.5,614.2 L279.0,614.2 L279.5,614.2 L280.0,614.2 L280.5,614.2 L281.0,614.2 L281.5,614.2 L282.0,614.2 L282.5,614.2 L283.0,614.2 L283.5,614.2 L284.0,614.2 L284.5,614.1 L285.0,613.8 L285.5,613.4 L286.0,612.8 L286.5,612.1 L287.0,611.3 L287.5,610.4 L288.0,609.5 L288.5,608.7 L289.0,607.8 L289.5,606.9 L290.0,606.1 L290.5,605.4 L291.0,604.8 L291.5,604.4 L292.0,604.1 L292.5,604.0 L293.0,604.0 L293.5,604.0 L294.0,604.0 L294.5,604.0 L295.0,604.0 L295.5,604.0 L296.0,604.0 L296.5,603.9 L297.0,603.6 L297.5,603.2 L298.0,602.6 L298.5,601.9 L299.0,601.1 L299.5,600.2 L300.0,599.2 L300.5,598.2 L301.0,597.1 L301.5,596.0 L302.0,594.9 L302.5,593.8 L303.0,592.8 L303.5,591.8 L304.0,590.9 L304.5,590.1 L305.0,589.4 L305.5,588.8 L306.0,588.4 L306.5,588.1 L307.0,588.0 L307.5,588.1 L308.0,588.4 L308.5,588.8 L309.0,589.4 L309.5,590.1 L310.0,590.8 L310.5,591.7 L311.0,592.5 L311.5,593.3 L312.0,594.2 L312.5,594.9 L313.0,595.6 L313.5,596.2 L314.0,596.6 L314.5,596.9 L315.0,597.0 L315.5,597.0 L316.0,597.0 L316.5,596.9 L317.0,596.9 L317.5,596.8 L318.0,596.7 L318.5,596.6 L319.0,596.5 L319.5,596.4 L320.0,596.3 L320.5,596.2 L321.0,596.0 L321.5,595.9 L322.0,595.7 L322.5,595.5 L323.0,595.3 L323.5,595.1 L324.0,594.9 L324.5,594.7 L325.0,594.5 L325.5,594.2 L326.0,593.6 L326.5,592.8 L327.0,591.9 L327.5,590.8 L328.0,589.5 L328.5,588.2 L329.0,586.7 L329.5,585.2 L330.0,583.7 L330.5,582.1 L331.0,580.6 L331.5,579.1 L332.0,577.7 L332.5,576.3 L333.0,575.0 L333.5,573.9 L334.0,572.9 L334.5,572.1 L335.0,571.5 L335.5,571.1 L336.0,571.0 L336.5,571.1 L337.0,571.6 L337.5,572.2 L338.0,573.1 L338.5,574.2 L339.0,575.4 L339.5,576.8 L340.0,578.2 L340.5,579.6 L341.0,581.1 L341.5,582.6 L342.0,584.1 L342.5,585.4 L343.0,586.7 L343.5,587.8 L344.0,588.7 L344.5,589.5 L345.0,590.0 L345.5,590.3 L346.0,590.6 L346.5,590.9 L347.0,591.1 L347.5,591.2 L348.0,591.4 L348.5,591.6 L349.0,591.9 L349.5,592.1 L350.0,592.5 L350.5,593.0 L351.0,593.9 L351.5,594.9 L352.0,596.2 L352.5,597.6 L353.0,599.2 L353.5,600.8 L354.0,602.5 L354.5,604.2 L355.0,605.9 L355.5,607.6 L356.0,609.1 L356.5,610.5 L357.0,611.7 L357.5,612.8 L358.0,613.5 L358.5,614.0 L359.0,614.2 L359.5,614.2 L360.0,614.2 L360.5,614.2 L361.0,614.2 L361.5,614.2 L362.0,614.2 L362.5,614.2 L363.0,614.2 L363.5,614.2 L364.0,614.2 L364.5,614.2 L365.0,614.2 L365.5,614.2 L366.0,614.2 L366.5,614.2 L367.0,614.2 L367.5,614.2 L368.0,614.2 L368.5,614.2 L369.0,614.2 L369.5,614.2 L370.0,614.2 L370.5,614.2 L371.0,614.2 L371.5,614.2 L372.0,614.2 L372.5,614.2 L373.0,614.2 L373.5,614.2 L374.0,614.2 L374.5,614.1 L375.0,613.9 L375.5,613.6 L376.0,613.2 L376.5,612.6 L377.0,612.0 L377.5,611.3 L378.0,610.5 L378.5,609.6 L379.0,608.6 L379.5,607.6 L380.0,606.6 L380.5,605.5 L381.0,604.4 L381.5,603.3 L382.0,602.1 L382.5,601.0 L383.0,599.9 L383.5,598.7 L384.0,597.6 L384.5,596.5 L385.0,595.5 L385.5,594.4 L386.0,593.2 L386.5,591.8 L387.0,590.3 L387.5,588.8 L388.0,587.1 L388.5,585.5 L389.0,583.8 L389.5,582.1 L390.0,580.4 L390.5,578.8 L391.0,577.2 L391.5,575.7 L392.0,574.3 L392.5,573.0 L393.0,571.9 L393.5,570.9 L394.0,570.1 L394.5,569.5 L395.0,569.1 L395.5,569.0 L396.0,569.3 L396.5,570.2 L397.0,571.5 L397.5,573.2 L398.0,575.3 L398.5,577.6 L399.0,580.0 L399.5,582.5" fill="none" stroke="#4353b3" stroke-width="2.25" stroke-linejoin="round" stroke-linecap="round"/>
<rect x="4.8" y="613.8" width="395" height="1.5" fill="#555"/>
<path d="M4.5,595.0 L5.0,590.9 L5.5,586.8 L6.0,582.9 L6.5,579.1 L7.0,575.6 L7.5,572.3 L8.0,569.3 L8.5,566.6 L9.0,564.4 L9.5,562.5 L10.0,561.1 L10.5,560.3 L11.0,560.0 L11.5,560.2 L12.0,560.8 L12.5,561.7 L13.0,563.0 L13.5,564.6 L14.0,566.4 L14.5,568.5 L15.0,570.7 L15.5,573.2 L16.0,575.8 L16.5,578.5 L17.0,581.3 L17.5,584.2 L18.0,587.1 L18.5,590.0 L19.0,592.9 L19.5,595.7 L20.0,598.4 L20.5,601.0 L21.0,603.5 L21.5,605.7 L22.0,607.8 L22.5,609.6 L23.0,611.2 L23.5,612.5 L24.0,613.4 L24.5,614.0 L25.0,614.2 L25.5,614.2 L26.0,614.2 L26.5,614.2 L27.0,614.2 L27.5,614.2 L28.0,614.2 L28.5,614.2 L29.0,614.2 L29.5,614.2 L30.0,614.2 L30.5,614.2 L31.0,614.2 L31.5,614.2 L32.0,614.2 L32.5,614.2 L33.0,614.2 L33.5,614.2 L34.0,614.2 L34.5,614.2 L35.0,614.2 L35.5,614.2 L36.0,614.2 L36.5,614.2 L37.0,614.2 L37.5,614.2 L38.0,614.2 L38.5,614.2 L39.0,614.2 L39.5,614.2 L40.0,614.2 L40.5,614.2 L41.0,614.2 L41.5,614.0 L42.0,613.4 L42.5,612.4 L43.0,611.0 L43.5,609.3 L44.0,607.4 L44.5,605.2 L45.0,602.7 L45.5,600.1 L46.0,597.3 L46.5,594.3 L47.0,591.2 L47.5,588.1 L48.0,584.9 L48.5,581.8 L49.0,578.6 L49.5,575.5 L50.0,572.4 L50.5,569.4 L51.0,566.6 L51.5,564.0 L52.0,561.5 L52.5,559.3 L53.0,557.4 L53.5,555.7 L54.0,554.3 L54.5,553.3 L55.0,552.7 L55.5,552.5 L56.0,552.7 L56.5,553.1 L57.0,553.8 L57.5,554.6 L58.0,555.5 L58.5,556.5 L59.0,557.4 L59.5,558.2 L60.0,558.9 L60.5,559.3 L61.0,559.5 L61.5,559.3 L62.0,558.7 L62.5,557.8 L63.0,556.7 L63.5,555.3 L64.0,553.7 L64.5,551.9 L65.0,550.1 L65.5,548.2 L66.0,546.4 L66.5,544.6 L67.0,542.8 L67.5,541.2 L68.0,539.8 L68.5,538.7 L69.0,537.8 L69.5,537.2 L70.0,537.0 L70.5,537.5 L71.0,538.8 L71.5,540.9 L72.0,543.7 L72.5,547.2 L73.0,551.1 L73.5,555.5 L74.0,560.2 L74.5,565.2 L75.0,570.4 L75.5,575.6 L76.0,580.8 L76.5,586.0 L77.0,591.0 L77.5,595.7 L78.0,600.1 L78.5,604.0 L79.0,607.5 L79.5,610.3 L80.0,612.4 L80.5,613.7 L81.0,614.2 L81.5,614.2 L82.0,614.2 L82.5,614.2 L83.0,614.2 L83.5,614.2 L84.0,614.2 L84.5,614.2 L85.0,614.2 L85.5,614.2 L86.0,614.2 L86.5,614.2 L87.0,614.2 L87.5,614.2 L88.0,614.2 L88.5,614.2 L89.0,614.2 L89.5,614.2 L90.0,614.2 L90.5,614.2 L91.0,614.2 L91.5,614.2 L92.0,614.2 L92.5,614.2 L93.0,614.2 L93.5,614.2 L94.0,614.2 L94.5,614.2 L95.0,614.2 L95.5,614.2 L96.0,614.2 L96.5,614.2 L97.0,614.2 L97.5,614.2 L98.0,614.2 L98.5,614.2 L99.0,614.2 L99.5,614.2 L100.0,614.2 L100.5,614.2 L101.0,614.2 L101.5,613.9 L102.0,613.2 L102.5,612.0 L103.0,610.4 L103.5,608.5 L104.0,606.2 L104.5,603.6 L105.0,600.8 L105.5,597.8 L106.0,594.7 L106.5,591.4 L107.0,588.0 L107.5,584.6 L108.0,581.2 L108.5,577.8 L109.0,574.5 L109.5,571.4 L110.0,568.4 L110.5,565.6 L111.0,563.0 L111.5,560.7 L112.0,558.8 L112.5,557.2 L113.0,556.0 L113.5,555.3 L114.0,555.0 L114.5,555.4 L115.0,556.4 L115.5,558.0 L116.0,560.2 L116.5,562.8 L117.0,565.8 L117.5,569.2 L118.0,572.8 L118.5,576.6 L119.0,580.6 L119.5,584.6 L120.0,588.6 L120.5,592.6 L121.0,596.4 L121.5,600.0 L122.0,603.4 L122.5,606.4 L123.0,609.0 L123.5,611.2 L124.0,612.8 L124.5,613.8 L125.0,614.2 L125.5,614.2 L126.0,614.2 L126.5,614.2 L127.0,614.2 L127.5,614.2 L128.0,614.2 L128.5,614.2 L129.0,614.2 L129.5,614.2 L130.0,614.2 L130.5,614.2 L131.0,614.2 L131.5,614.2 L132.0,614.2 L132.5,614.2 L133.0,614.2 L133.5,614.2 L134.0,614.2 L134.5,614.2 L135.0,614.2 L135.5,614.2 L136.0,614.2 L136.5,614.2 L137.0,614.2 L137.5,614.2 L138.0,614.2 L138.5,614.2 L139.0,614.2 L139.5,614.2 L140.0,614.2 L140.5,614.2 L141.0,614.2 L141.5,614.2 L142.0,614.2 L142.5,614.2 L143.0,614.2 L143.5,614.2 L144.0,614.2 L144.5,614.2 L145.0,614.2 L145.5,614.2 L146.0,614.2 L146.5,614.2 L147.0,614.2 L147.5,614.2 L148.0,614.2 L148.5,614.2 L149.0,614.2 L149.5,614.2 L150.0,614.2 L150.5,614.2 L151.0,614.2 L151.5,614.2 L152.0,614.2 L152.5,614.2 L153.0,614.2 L153.5,614.2 L154.0,614.2 L154.5,614.2 L155.0,614.2 L155.5,614.2 L156.0,614.2 L156.5,614.2 L157.0,614.2 L157.5,614.2 L158.0,614.2 L158.5,614.2 L159.0,614.2 L159.5,614.2 L160.0,614.2 L160.5,614.2 L161.0,614.2 L161.5,614.2 L162.0,614.2 L162.5,614.2 L163.0,614.2 L163.5,614.2 L164.0,614.2 L164.5,614.2 L165.0,614.2 L165.5,614.2 L166.0,614.2 L166.5,614.2 L167.0,614.2 L167.5,614.2 L168.0,614.2 L168.5,614.2 L169.0,614.2 L169.5,614.2 L170.0,614.2 L170.5,614.2 L171.0,614.2 L171.5,614.2 L172.0,614.2 L172.5,614.2 L173.0,614.2 L173.5,614.2 L174.0,614.2 L174.5,614.2 L175.0,614.2 L175.5,613.9 L176.0,612.8 L176.5,611.2 L177.0,609.1 L177.5,606.5 L178.0,603.6 L178.5,600.3 L179.0,596.7 L179.5,592.9 L180.0,589.1 L180.5,585.1 L181.0,581.1 L181.5,577.3 L182.0,573.5 L182.5,569.9 L183.0,566.6 L183.5,563.7 L184.0,561.1 L184.5,559.0 L185.0,557.4 L185.5,556.3 L186.0,556.0 L186.5,556.1 L187.0,556.4 L187.5,556.9 L188.0,557.5 L188.5,558.2 L189.0,559.1 L189.5,560.1 L190.0,561.2 L190.5,562.3 L191.0,563.5 L191.5,564.6 L192.0,565.9 L192.5,567.0 L193.0,568.2 L193.5,569.3 L194.0,570.4 L194.5,571.4 L195.0,572.3 L195.5,573.0 L196.0,573.6 L196.5,574.1 L197.0,574.4 L197.5,574.5 L198.0,574.4 L198.5,574.0 L199.0,573.5 L199.5,572.8 L200.0,572.2 L200.5,571.5 L201.0,571.0 L201.5,570.6 L202.0,570.5 L202.5,570.7 L203.0,571.2 L203.5,572.1 L204.0,573.3 L204.5,574.7 L205.0,576.4 L205.5,578.3 L206.0,580.4 L206.5,582.6 L207.0,584.9 L207.5,587.3 L208.0,589.8 L208.5,592.4 L209.0,594.9 L209.5,597.4 L210.0,599.8 L210.5,602.1 L211.0,604.3 L211.5,606.4 L212.0,608.3 L212.5,610.0 L213.0,611.4 L213.5,612.6 L214.0,613.5 L214.5,614.0 L215.0,614.2 L215.5,614.2 L216.0,614.2 L216.5,614.2 L217.0,614.2 L217.5,614.2 L218.0,614.2 L218.5,614.2 L219.0,614.2 L219.5,614.2 L220.0,614.2 L220.5,614.2 L221.0,614.2 L221.5,614.2 L222.0,614.2 L222.5,614.2 L223.0,614.2 L223.5,614.2 L224.0,614.2 L224.5,614.2 L225.0,614.2 L225.5,614.2 L226.0,614.2 L226.5,614.2 L227.0,614.2 L227.5,614.2 L228.0,614.2 L228.5,614.2 L229.0,614.2 L229.5,614.2 L230.0,614.2 L230.5,614.2 L231.0,614.2 L231.5,614.2 L232.0,614.2 L232.5,614.2 L233.0,614.2 L233.5,614.2 L234.0,614.2 L234.5,614.2 L235.0,614.2 L235.5,614.2 L236.0,614.2 L236.5,614.2 L237.0,614.2 L237.5,614.2 L238.0,614.2 L238.5,614.2 L239.0,614.2 L239.5,614.2 L240.0,614.2 L240.5,614.2 L241.0,614.2 L241.5,614.2 L242.0,614.2 L242.5,614.2 L243.0,614.2 L243.5,614.2 L244.0,614.2 L244.5,614.2 L245.0,614.2 L245.5,614.1 L246.0,613.9 L246.5,613.6 L247.0,613.1 L247.5,612.6 L248.0,612.0 L248.5,611.2 L249.0,610.4 L249.5,609.6 L250.0,608.7 L250.5,607.8 L251.0,606.8 L251.5,605.8 L252.0,604.8 L252.5,603.9 L253.0,602.9 L253.5,602.0 L254.0,601.1 L254.5,600.3 L255.0,599.5 L255.5,598.8 L256.0,598.2 L256.5,597.7 L257.0,597.3 L257.5,597.0 L258.0,596.8 L258.5,596.6 L259.0,596.5 L259.5,596.4 L260.0,596.3 L260.5,596.2 L261.0,596.0 L261.5,595.9 L262.0,595.7 L262.5,595.5 L263.0,595.1 L263.5,594.4 L264.0,593.4 L264.5,592.1 L265.0,590.6 L265.5,588.9 L266.0,587.1 L266.5,585.0 L267.0,582.9 L267.5,580.7 L268.0,578.4 L268.5,576.1 L269.0,573.8 L269.5,571.5 L270.0,569.3 L270.5,567.2 L271.0,565.1 L271.5,563.2 L272.0,561.5 L272.5,559.9 L273.0,558.6 L273.5,557.5 L274.0,556.7 L274.5,556.2 L275.0,556.0 L275.5,556.1 L276.0,556.5 L276.5,557.1 L277.0,557.8 L277.5,558.7 L278.0,559.8 L278.5,560.9 L279.0,562.2 L279.5,563.5 L280.0,564.8 L280.5,566.1 L281.0,567.4 L281.5,568.7 L282.0,569.9 L282.5,570.9 L283.0,571.9 L283.5,572.7 L284.0,573.4 L284.5,573.8 L285.0,574.0 L285.5,574.1 L286.0,574.1 L286.5,574.2 L287.0,574.2 L287.5,574.3 L288.0,574.3 L288.5,574.3 L289.0,574.4 L289.5,574.4 L290.0,574.5 L290.5,574.7 L291.0,574.9 L291.5,575.3 L292.0,575.9 L292.5,576.5 L293.0,577.2 L293.5,578.0 L294.0,578.9 L294.5,579.8 L295.0,580.8 L295.5,581.8 L296.0,582.8 L296.5,583.9 L297.0,585.0 L297.5,586.1 L298.0,587.2 L298.5,588.3 L299.0,589.3 L299.5,590.3 L300.0,591.3 L300.5,592.2 L301.0,593.0 L301.5,593.8 L302.0,594.4 L302.5,595.0 L303.0,595.5 L303.5,596.1 L304.0,596.6 L304.5,597.2 L305.0,597.7 L305.5,598.2 L306.0,598.7 L306.5,599.2 L307.0,599.6 L307.5,600.0 L308.0,600.4 L308.5,600.6 L309.0,600.8 L309.5,601.0 L310.0,601.0 L310.5,601.0 L311.0,600.8 L311.5,600.6 L312.0,600.4 L312.5,600.1 L313.0,599.7 L313.5,599.3 L314.0,598.9 L314.5,598.4 L315.0,598.0 L315.5,597.6 L316.0,597.1 L316.5,596.7 L317.0,596.3 L317.5,595.9 L318.0,595.6 L318.5,595.4 L319.0,595.2 L319.5,595.0 L320.0,595.0 L320.5,595.1 L321.0,595.3 L321.5,595.8 L322.0,596.3 L322.5,597.0 L323.0,597.8 L323.5,598.7 L324.0,599.6 L324.5,600.7 L325.0,601.8 L325.5,602.9 L326.0,604.0 L326.5,605.2 L327.0,606.3 L327.5,607.4 L328.0,608.5 L328.5,609.6 L329.0,610.5 L329.5,611.4 L330.0,612.2 L330.5,612.9 L331.0,613.4 L331.5,613.9 L332.0,614.1 L332.5,614.2 L333.0,614.2 L333.5,614.2 L334.0,614.2 L334.5,614.2 L335.0,614.2 L335.5,614.2 L336.0,614.2 L336.5,614.2 L337.0,614.2 L337.5,614.2 L338.0,614.1 L338.5,614.0 L339.0,613.7 L339.5,613.4 L340.0,613.0 L340.5,612.5 L341.0,611.9 L341.5,611.2 L342.0,610.5 L342.5,609.7 L343.0,608.9 L343.5,608.0 L344.0,607.1 L344.5,606.2 L345.0,605.2 L345.5,604.2 L346.0,603.2 L346.5,602.1 L347.0,601.1 L347.5,600.1 L348.0,599.0 L348.5,598.0 L349.0,597.0 L349.5,596.0 L350.0,595.0 L350.5,594.0 L351.0,592.9 L351.5,591.6 L352.0,590.3 L352.5,588.9 L353.0,587.4 L353.5,585.8 L354.0,584.2 L354.5,582.5 L355.0,580.8 L355.5,579.1 L356.0,577.4 L356.5,575.6 L357.0,573.9 L357.5,572.2 L358.0,570.5 L358.5,568.8 L359.0,567.2 L359.5,565.6 L360.0,564.1 L360.5,562.7 L361.0,561.4 L361.5,560.2 L362.0,559.0 L362.5,558.0 L363.0,557.1 L363.5,556.4 L364.0,555.8 L364.5,555.4 L365.0,555.1 L365.5,555.0 L366.0,555.2 L366.5,555.6 L367.0,556.3 L367.5,557.2 L368.0,558.2 L368.5,559.5 L369.0,560.8 L369.5,562.3 L370.0,563.8 L370.5,565.3 L371.0,566.9 L371.5,568.3 L372.0,569.8 L372.5,571.1 L373.0,572.3 L373.5,573.3 L374.0,574.1 L374.5,574.7 L375.0,575.0 L375.5,575.2 L376.0,575.3 L376.5,575.4 L377.0,575.5 L377.5,575.5 L378.0,575.6 L378.5,575.7 L379.0,575.8 L379.5,576.0 L380.0,576.3 L380.5,577.0 L381.0,577.8 L381.5,579.0 L382.0,580.3 L382.5,581.8 L383.0,583.5 L383.5,585.3 L384.0,587.3 L384.5,589.3 L385.0,591.4 L385.5,593.5 L386.0,595.7 L386.5,597.8 L387.0,600.0 L387.5,602.0 L388.0,604.0 L388.5,605.9 L389.0,607.6 L389.5,609.2 L390.0,610.6 L390.5,611.9 L391.0,612.8 L391.5,613.6 L392.0,614.0 L392.5,614.2 L393.0,614.2 L393.5,614.2 L394.0,614.2 L394.5,614.2 L395.0,614.2 L395.5,614.2 L396.0,614.2 L396.5,614.2 L397.0,614.2 L397.5,614.2 L398.0,614.2 L398.5,614.2 L399.0,614.2 L399.5,614.2" fill="none" stroke="#e8425a" stroke-width="2.25" stroke-linejoin="round" stroke-linecap="round"/>
<text x="503.5" y="26.4" font-size="20.5" textLength="318.5" lengthAdjust="spacingAndGlyphs" fill="#111" stroke="#111" stroke-width="0.45">normal DNA and protein sequence</text>
<text x="513.6" y="384.0" font-size="20.5" textLength="62.60000000000002" lengthAdjust="spacingAndGlyphs" fill="#111" stroke="#111" stroke-width="0.45">mutant</text>
<text x="584.0" y="384.0" font-size="20.5" textLength="49.200000000000045" lengthAdjust="spacingAndGlyphs" fill="#111" stroke="#111" stroke-width="0.45">DNA</text>
<text x="636.0" y="384.0" font-size="20.5" textLength="193.20000000000005" lengthAdjust="spacingAndGlyphs" fill="#111" stroke="#111" stroke-width="0.45">and protein sequence</text>
<text x="415.7" y="58.0" font-size="14" textLength="25.6" lengthAdjust="spacingAndGlyphs" fill="#353030" stroke="#353030" stroke-width="0.55">1152</text>
<text x="870.7" y="58.0" font-size="14" textLength="24.8" lengthAdjust="spacingAndGlyphs" fill="#353030" stroke="#353030" stroke-width="0.55">1211</text>
<text x="448.2" y="58.0" font-size="14" textLength="414.0" lengthAdjust="spacingAndGlyphs" fill="#3d3838" stroke="#3d3838" stroke-width="0.7">GAAGGAGAAGGGGAAGGGGAGGAAGGAGAAGGGGAGGGGGAAGAGGAGGAAGGAGAAGGG</text>
<text x="451.6" y="75.8" font-size="14" text-anchor="middle" fill="#df5054" stroke="#df5054" stroke-width="0.4" transform="translate(451.6 0) scale(0.68 1) translate(-451.6 0)">E</text>
<text x="472.4" y="75.8" font-size="14" text-anchor="middle" fill="#df5054" stroke="#df5054" stroke-width="0.4" transform="translate(472.4 0) scale(0.68 1) translate(-472.4 0)">G</text>
<text x="493.1" y="75.8" font-size="14" text-anchor="middle" fill="#df5054" stroke="#df5054" stroke-width="0.4" transform="translate(493.1 0) scale(0.68 1) translate(-493.1 0)">E</text>
<text x="513.8" y="75.8" font-size="14" text-anchor="middle" fill="#df5054" stroke="#df5054" stroke-width="0.4" transform="translate(513.8 0) scale(0.68 1) translate(-513.8 0)">G</text>
<text x="534.5" y="75.8" font-size="14" text-anchor="middle" fill="#df5054" stroke="#df5054" stroke-width="0.4" transform="translate(534.5 0) scale(0.68 1) translate(-534.5 0)">E</text>
<text x="555.1" y="75.8" font-size="14" text-anchor="middle" fill="#df5054" stroke="#df5054" stroke-width="0.4" transform="translate(555.1 0) scale(0.68 1) translate(-555.1 0)">G</text>
<text x="575.9" y="75.8" font-size="14" text-anchor="middle" fill="#df5054" stroke="#df5054" stroke-width="0.4" transform="translate(575.9 0) scale(0.68 1) translate(-575.9 0)">E</text>
<text x="596.5" y="75.8" font-size="14" text-anchor="middle" fill="#df5054" stroke="#df5054" stroke-width="0.4" transform="translate(596.5 0) scale(0.68 1) translate(-596.5 0)">E</text>
<text x="617.2" y="75.8" font-size="14" text-anchor="middle" fill="#df5054" stroke="#df5054" stroke-width="0.4" transform="translate(617.2 0) scale(0.68 1) translate(-617.2 0)">G</text>
<text x="638.0" y="75.8" font-size="14" text-anchor="middle" fill="#df5054" stroke="#df5054" stroke-width="0.4" transform="translate(638.0 0) scale(0.68 1) translate(-638.0 0)">E</text>
<text x="658.7" y="75.8" font-size="14" text-anchor="middle" fill="#df5054" stroke="#df5054" stroke-width="0.4" transform="translate(658.7 0) scale(0.68 1) translate(-658.7 0)">G</text>
<text x="679.4" y="75.8" font-size="14" text-anchor="middle" fill="#df5054" stroke="#df5054" stroke-width="0.4" transform="translate(679.4 0) scale(0.68 1) translate(-679.4 0)">E</text>
<text x="700.1" y="75.8" font-size="14" text-anchor="middle" fill="#df5054" stroke="#df5054" stroke-width="0.4" transform="translate(700.1 0) scale(0.68 1) translate(-700.1 0)">G</text>
<text x="720.8" y="75.8" font-size="14" text-anchor="middle" fill="#df5054" stroke="#df5054" stroke-width="0.4" transform="translate(720.8 0) scale(0.68 1) translate(-720.8 0)">E</text>
<text x="741.5" y="75.8" font-size="14" text-anchor="middle" fill="#df5054" stroke="#df5054" stroke-width="0.4" transform="translate(741.5 0) scale(0.68 1) translate(-741.5 0)">E</text>
<text x="762.2" y="75.8" font-size="14" text-anchor="middle" fill="#df5054" stroke="#df5054" stroke-width="0.4" transform="translate(762.2 0) scale(0.68 1) translate(-762.2 0)">E</text>
<text x="782.9" y="75.8" font-size="14" text-anchor="middle" fill="#df5054" stroke="#df5054" stroke-width="0.4" transform="translate(782.9 0) scale(0.68 1) translate(-782.9 0)">E</text>
<text x="803.6" y="75.8" font-size="14" text-anchor="middle" fill="#df5054" stroke="#df5054" stroke-width="0.4" transform="translate(803.6 0) scale(0.68 1) translate(-803.6 0)">G</text>
<text x="824.2" y="75.8" font-size="14" text-anchor="middle" fill="#df5054" stroke="#df5054" stroke-width="0.4" transform="translate(824.2 0) scale(0.68 1) translate(-824.2 0)">E</text>
<text x="845.0" y="75.8" font-size="14" text-anchor="middle" fill="#df5054" stroke="#df5054" stroke-width="0.4" transform="translate(845.0 0) scale(0.68 1) translate(-845.0 0)">G</text>
<rect x="548.7" y="79.5" width="302.1" height="2.2" fill="#3a3636"/>
<text x="415.7" y="93.8" font-size="14" textLength="25.6" lengthAdjust="spacingAndGlyphs" fill="#353030" stroke="#353030" stroke-width="0.55">1212</text>
<text x="870.7" y="93.8" font-size="14" textLength="24.8" lengthAdjust="spacingAndGlyphs" fill="#353030" stroke="#353030" stroke-width="0.55">1271</text>
<text x="448.2" y="93.8" font-size="14" textLength="414.0" lengthAdjust="spacingAndGlyphs" fill="#3d3838" stroke="#3d3838" stroke-width="0.7">GAGGGGGAAGAGGAGGAAGGGGAAGAAGAAGGGGAGGAAGAAGGAGAGGGAGAGGAAGAA</text>
<text x="451.6" y="111.6" font-size="14" text-anchor="middle" fill="#df5054" stroke="#df5054" stroke-width="0.4" transform="translate(451.6 0) scale(0.68 1) translate(-451.6 0)">E</text>
<text x="472.4" y="111.6" font-size="14" text-anchor="middle" fill="#df5054" stroke="#df5054" stroke-width="0.4" transform="translate(472.4 0) scale(0.68 1) translate(-472.4 0)">G</text>
<text x="493.1" y="111.6" font-size="14" text-anchor="middle" fill="#df5054" stroke="#df5054" stroke-width="0.4" transform="translate(493.1 0) scale(0.68 1) translate(-493.1 0)">E</text>
<text x="513.8" y="111.6" font-size="14" text-anchor="middle" fill="#df5054" stroke="#df5054" stroke-width="0.4" transform="translate(513.8 0) scale(0.68 1) translate(-513.8 0)">E</text>
<text x="534.5" y="111.6" font-size="14" text-anchor="middle" fill="#df5054" stroke="#df5054" stroke-width="0.4" transform="translate(534.5 0) scale(0.68 1) translate(-534.5 0)">E</text>
<text x="555.1" y="111.6" font-size="14" text-anchor="middle" fill="#df5054" stroke="#df5054" stroke-width="0.4" transform="translate(555.1 0) scale(0.68 1) translate(-555.1 0)">E</text>
<text x="575.9" y="111.6" font-size="14" text-anchor="middle" fill="#df5054" stroke="#df5054" stroke-width="0.4" transform="translate(575.9 0) scale(0.68 1) translate(-575.9 0)">G</text>
<text x="596.5" y="111.6" font-size="14" text-anchor="middle" fill="#df5054" stroke="#df5054" stroke-width="0.4" transform="translate(596.5 0) scale(0.68 1) translate(-596.5 0)">E</text>
<text x="617.2" y="111.6" font-size="14" text-anchor="middle" fill="#df5054" stroke="#df5054" stroke-width="0.4" transform="translate(617.2 0) scale(0.68 1) translate(-617.2 0)">E</text>
<text x="638.0" y="111.6" font-size="14" text-anchor="middle" fill="#df5054" stroke="#df5054" stroke-width="0.4" transform="translate(638.0 0) scale(0.68 1) translate(-638.0 0)">E</text>
<text x="658.7" y="111.6" font-size="14" text-anchor="middle" fill="#df5054" stroke="#df5054" stroke-width="0.4" transform="translate(658.7 0) scale(0.68 1) translate(-658.7 0)">G</text>
<text x="679.4" y="111.6" font-size="14" text-anchor="middle" fill="#df5054" stroke="#df5054" stroke-width="0.4" transform="translate(679.4 0) scale(0.68 1) translate(-679.4 0)">E</text>
<text x="700.1" y="111.6" font-size="14" text-anchor="middle" fill="#df5054" stroke="#df5054" stroke-width="0.4" transform="translate(700.1 0) scale(0.68 1) translate(-700.1 0)">E</text>
<text x="720.8" y="111.6" font-size="14" text-anchor="middle" fill="#df5054" stroke="#df5054" stroke-width="0.4" transform="translate(720.8 0) scale(0.68 1) translate(-720.8 0)">E</text>
<text x="741.5" y="111.6" font-size="14" text-anchor="middle" fill="#df5054" stroke="#df5054" stroke-width="0.4" transform="translate(741.5 0) scale(0.68 1) translate(-741.5 0)">G</text>
<text x="762.2" y="111.6" font-size="14" text-anchor="middle" fill="#df5054" stroke="#df5054" stroke-width="0.4" transform="translate(762.2 0) scale(0.68 1) translate(-762.2 0)">E</text>
<text x="782.9" y="111.6" font-size="14" text-anchor="middle" fill="#df5054" stroke="#df5054" stroke-width="0.4" transform="translate(782.9 0) scale(0.68 1) translate(-782.9 0)">G</text>
<text x="803.6" y="111.6" font-size="14" text-anchor="middle" fill="#df5054" stroke="#df5054" stroke-width="0.4" transform="translate(803.6 0) scale(0.68 1) translate(-803.6 0)">E</text>
<text x="824.2" y="111.6" font-size="14" text-anchor="middle" fill="#df5054" stroke="#df5054" stroke-width="0.4" transform="translate(824.2 0) scale(0.68 1) translate(-824.2 0)">E</text>
<text x="845.0" y="111.6" font-size="14" text-anchor="middle" fill="#df5054" stroke="#df5054" stroke-width="0.4" transform="translate(845.0 0) scale(0.68 1) translate(-845.0 0)">E</text>
<rect x="447.0" y="115.3" width="403.8" height="2.2" fill="#3a3636"/>
<text x="415.7" y="129.6" font-size="14" textLength="25.6" lengthAdjust="spacingAndGlyphs" fill="#353030" stroke="#353030" stroke-width="0.55">1272</text>
<text x="870.7" y="129.6" font-size="14" textLength="24.8" lengthAdjust="spacingAndGlyphs" fill="#353030" stroke="#353030" stroke-width="0.55">1331</text>
<text x="448.2" y="129.6" font-size="14" textLength="414.0" lengthAdjust="spacingAndGlyphs" fill="#3d3838" stroke="#3d3838" stroke-width="0.7">GGGGAGGGAGAAGGGGAGGAAGAAGAGGAAGGGGAAGUGGAAGGGGAGGUGGAAGGGGAG</text>
<text x="451.6" y="147.4" font-size="14" text-anchor="middle" fill="#df5054" stroke="#df5054" stroke-width="0.4" transform="translate(451.6 0) scale(0.68 1) translate(-451.6 0)">G</text>
<text x="472.4" y="147.4" font-size="14" text-anchor="middle" fill="#df5054" stroke="#df5054" stroke-width="0.4" transform="translate(472.4 0) scale(0.68 1) translate(-472.4 0)">E</text>
<text x="493.1" y="147.4" font-size="14" text-anchor="middle" fill="#df5054" stroke="#df5054" stroke-width="0.4" transform="translate(493.1 0) scale(0.68 1) translate(-493.1 0)">G</text>
<text x="513.8" y="147.4" font-size="14" text-anchor="middle" fill="#df5054" stroke="#df5054" stroke-width="0.4" transform="translate(513.8 0) scale(0.68 1) translate(-513.8 0)">E</text>
<text x="534.5" y="147.4" font-size="14" text-anchor="middle" fill="#df5054" stroke="#df5054" stroke-width="0.4" transform="translate(534.5 0) scale(0.68 1) translate(-534.5 0)">G</text>
<text x="555.1" y="147.4" font-size="14" text-anchor="middle" fill="#df5054" stroke="#df5054" stroke-width="0.4" transform="translate(555.1 0) scale(0.68 1) translate(-555.1 0)">E</text>
<text x="575.9" y="147.4" font-size="14" text-anchor="middle" fill="#df5054" stroke="#df5054" stroke-width="0.4" transform="translate(575.9 0) scale(0.68 1) translate(-575.9 0)">E</text>
<text x="596.5" y="147.4" font-size="14" text-anchor="middle" fill="#df5054" stroke="#df5054" stroke-width="0.4" transform="translate(596.5 0) scale(0.68 1) translate(-596.5 0)">E</text>
<text x="617.2" y="147.4" font-size="14" text-anchor="middle" fill="#df5054" stroke="#df5054" stroke-width="0.4" transform="translate(617.2 0) scale(0.68 1) translate(-617.2 0)">E</text>
<text x="638.0" y="147.4" font-size="14" text-anchor="middle" fill="#df5054" stroke="#df5054" stroke-width="0.4" transform="translate(638.0 0) scale(0.68 1) translate(-638.0 0)">E</text>
<text x="658.7" y="147.4" font-size="14" text-anchor="middle" fill="#df5054" stroke="#df5054" stroke-width="0.4" transform="translate(658.7 0) scale(0.68 1) translate(-658.7 0)">G</text>
<text x="679.4" y="147.4" font-size="14" text-anchor="middle" fill="#df5054" stroke="#df5054" stroke-width="0.4" transform="translate(679.4 0) scale(0.68 1) translate(-679.4 0)">E</text>
<text x="700.1" y="147.4" font-size="14" text-anchor="middle" fill="#df5054" stroke="#df5054" stroke-width="0.4" transform="translate(700.1 0) scale(0.68 1) translate(-700.1 0)">V</text>
<text x="720.8" y="147.4" font-size="14" text-anchor="middle" fill="#df5054" stroke="#df5054" stroke-width="0.4" transform="translate(720.8 0) scale(0.68 1) translate(-720.8 0)">E</text>
<text x="741.5" y="147.4" font-size="14" text-anchor="middle" fill="#df5054" stroke="#df5054" stroke-width="0.4" transform="translate(741.5 0) scale(0.68 1) translate(-741.5 0)">G</text>
<text x="762.2" y="147.4" font-size="14" text-anchor="middle" fill="#df5054" stroke="#df5054" stroke-width="0.4" transform="translate(762.2 0) scale(0.68 1) translate(-762.2 0)">E</text>
<text x="782.9" y="147.4" font-size="14" text-anchor="middle" fill="#df5054" stroke="#df5054" stroke-width="0.4" transform="translate(782.9 0) scale(0.68 1) translate(-782.9 0)">V</text>
<text x="803.6" y="147.4" font-size="14" text-anchor="middle" fill="#df5054" stroke="#df5054" stroke-width="0.4" transform="translate(803.6 0) scale(0.68 1) translate(-803.6 0)">E</text>
<text x="824.2" y="147.4" font-size="14" text-anchor="middle" fill="#df5054" stroke="#df5054" stroke-width="0.4" transform="translate(824.2 0) scale(0.68 1) translate(-824.2 0)">G</text>
<text x="845.0" y="147.4" font-size="14" text-anchor="middle" fill="#df5054" stroke="#df5054" stroke-width="0.4" transform="translate(845.0 0) scale(0.68 1) translate(-845.0 0)">E</text>
<rect x="447.0" y="151.1" width="403.8" height="2.2" fill="#3a3636"/>
<text x="415.7" y="165.4" font-size="14" textLength="25.6" lengthAdjust="spacingAndGlyphs" fill="#353030" stroke="#353030" stroke-width="0.55">1332</text>
<text x="870.7" y="165.4" font-size="14" textLength="24.8" lengthAdjust="spacingAndGlyphs" fill="#353030" stroke="#353030" stroke-width="0.55">1391</text>
<text x="448.2" y="165.4" font-size="14" textLength="414.0" lengthAdjust="spacingAndGlyphs" fill="#3d3838" stroke="#3d3838" stroke-width="0.7">GAAGGAGAGGGGGAAGGAGAGGAAGAGGAAGGAGAGGAGGAAGGAGAAGAAAGGGAAAAG</text>
<text x="451.6" y="183.2" font-size="14" text-anchor="middle" fill="#df5054" stroke="#df5054" stroke-width="0.4" transform="translate(451.6 0) scale(0.68 1) translate(-451.6 0)">E</text>
<text x="472.4" y="183.2" font-size="14" text-anchor="middle" fill="#df5054" stroke="#df5054" stroke-width="0.4" transform="translate(472.4 0) scale(0.68 1) translate(-472.4 0)">G</text>
<text x="493.1" y="183.2" font-size="14" text-anchor="middle" fill="#df5054" stroke="#df5054" stroke-width="0.4" transform="translate(493.1 0) scale(0.68 1) translate(-493.1 0)">E</text>
<text x="513.8" y="183.2" font-size="14" text-anchor="middle" fill="#df5054" stroke="#df5054" stroke-width="0.4" transform="translate(513.8 0) scale(0.68 1) translate(-513.8 0)">G</text>
<text x="534.5" y="183.2" font-size="14" text-anchor="middle" fill="#df5054" stroke="#df5054" stroke-width="0.4" transform="translate(534.5 0) scale(0.68 1) translate(-534.5 0)">E</text>
<text x="555.1" y="183.2" font-size="14" text-anchor="middle" fill="#df5054" stroke="#df5054" stroke-width="0.4" transform="translate(555.1 0) scale(0.68 1) translate(-555.1 0)">G</text>
<text x="575.9" y="183.2" font-size="14" text-anchor="middle" fill="#df5054" stroke="#df5054" stroke-width="0.4" transform="translate(575.9 0) scale(0.68 1) translate(-575.9 0)">E</text>
<text x="596.5" y="183.2" font-size="14" text-anchor="middle" fill="#df5054" stroke="#df5054" stroke-width="0.4" transform="translate(596.5 0) scale(0.68 1) translate(-596.5 0)">E</text>
<text x="617.2" y="183.2" font-size="14" text-anchor="middle" fill="#df5054" stroke="#df5054" stroke-width="0.4" transform="translate(617.2 0) scale(0.68 1) translate(-617.2 0)">E</text>
<text x="638.0" y="183.2" font-size="14" text-anchor="middle" fill="#df5054" stroke="#df5054" stroke-width="0.4" transform="translate(638.0 0) scale(0.68 1) translate(-638.0 0)">E</text>
<text x="658.7" y="183.2" font-size="14" text-anchor="middle" fill="#df5054" stroke="#df5054" stroke-width="0.4" transform="translate(658.7 0) scale(0.68 1) translate(-658.7 0)">G</text>
<text x="679.4" y="183.2" font-size="14" text-anchor="middle" fill="#df5054" stroke="#df5054" stroke-width="0.4" transform="translate(679.4 0) scale(0.68 1) translate(-679.4 0)">E</text>
<text x="700.1" y="183.2" font-size="14" text-anchor="middle" fill="#df5054" stroke="#df5054" stroke-width="0.4" transform="translate(700.1 0) scale(0.68 1) translate(-700.1 0)">E</text>
<text x="720.8" y="183.2" font-size="14" text-anchor="middle" fill="#df5054" stroke="#df5054" stroke-width="0.4" transform="translate(720.8 0) scale(0.68 1) translate(-720.8 0)">E</text>
<text x="741.5" y="183.2" font-size="14" text-anchor="middle" fill="#df5054" stroke="#df5054" stroke-width="0.4" transform="translate(741.5 0) scale(0.68 1) translate(-741.5 0)">G</text>
<text x="762.2" y="183.2" font-size="14" text-anchor="middle" fill="#df5054" stroke="#df5054" stroke-width="0.4" transform="translate(762.2 0) scale(0.68 1) translate(-762.2 0)">E</text>
<text x="782.9" y="183.2" font-size="14" text-anchor="middle" fill="#df5054" stroke="#df5054" stroke-width="0.4" transform="translate(782.9 0) scale(0.68 1) translate(-782.9 0)">E</text>
<text x="803.6" y="183.2" font-size="14" text-anchor="middle" fill="#df5054" stroke="#df5054" stroke-width="0.4" transform="translate(803.6 0) scale(0.68 1) translate(-803.6 0)">R</text>
<text x="824.2" y="183.2" font-size="14" text-anchor="middle" fill="#df5054" stroke="#df5054" stroke-width="0.4" transform="translate(824.2 0) scale(0.68 1) translate(-824.2 0)">E</text>
<text x="845.0" y="183.2" font-size="14" text-anchor="middle" fill="#df5054" stroke="#df5054" stroke-width="0.4" transform="translate(845.0 0) scale(0.68 1) translate(-845.0 0)">K</text>
<rect x="447.0" y="186.9" width="403.8" height="2.2" fill="#3a3636"/>
<text x="415.7" y="201.2" font-size="14" textLength="25.6" lengthAdjust="spacingAndGlyphs" fill="#353030" stroke="#353030" stroke-width="0.55">1392</text>
<text x="870.7" y="201.2" font-size="14" textLength="24.8" lengthAdjust="spacingAndGlyphs" fill="#353030" stroke="#353030" stroke-width="0.55">1451</text>
<text x="448.2" y="201.2" font-size="14" textLength="414.0" lengthAdjust="spacingAndGlyphs" fill="#3d3838" stroke="#3d3838" stroke-width="0.7">GAGGGGGAAGGAGAAGAAAACAGGAGGAACAGAGAAGAGGAGGAGGAAGAAGAGGGGAAG</text>
<text x="451.6" y="219.0" font-size="14" text-anchor="middle" fill="#df5054" stroke="#df5054" stroke-width="0.4" transform="translate(451.6 0) scale(0.68 1) translate(-451.6 0)">E</text>
<text x="472.4" y="219.0" font-size="14" text-anchor="middle" fill="#df5054" stroke="#df5054" stroke-width="0.4" transform="translate(472.4 0) scale(0.68 1) translate(-472.4 0)">G</text>
<text x="493.1" y="219.0" font-size="14" text-anchor="middle" fill="#df5054" stroke="#df5054" stroke-width="0.4" transform="translate(493.1 0) scale(0.68 1) translate(-493.1 0)">E</text>
<text x="513.8" y="219.0" font-size="14" text-anchor="middle" fill="#df5054" stroke="#df5054" stroke-width="0.4" transform="translate(513.8 0) scale(0.68 1) translate(-513.8 0)">G</text>
<text x="534.5" y="219.0" font-size="14" text-anchor="middle" fill="#df5054" stroke="#df5054" stroke-width="0.4" transform="translate(534.5 0) scale(0.68 1) translate(-534.5 0)">E</text>
<text x="555.1" y="219.0" font-size="14" text-anchor="middle" fill="#df5054" stroke="#df5054" stroke-width="0.4" transform="translate(555.1 0) scale(0.68 1) translate(-555.1 0)">E</text>
<text x="575.9" y="219.0" font-size="14" text-anchor="middle" fill="#df5054" stroke="#df5054" stroke-width="0.4" transform="translate(575.9 0) scale(0.68 1) translate(-575.9 0)">N</text>
<text x="596.5" y="219.0" font-size="14" text-anchor="middle" fill="#df5054" stroke="#df5054" stroke-width="0.4" transform="translate(596.5 0) scale(0.68 1) translate(-596.5 0)">R</text>
<text x="617.2" y="219.0" font-size="14" text-anchor="middle" fill="#df5054" stroke="#df5054" stroke-width="0.4" transform="translate(617.2 0) scale(0.68 1) translate(-617.2 0)">R</text>
<text x="638.0" y="219.0" font-size="14" text-anchor="middle" fill="#df5054" stroke="#df5054" stroke-width="0.4" transform="translate(638.0 0) scale(0.68 1) translate(-638.0 0)">N</text>
<text x="658.7" y="219.0" font-size="14" text-anchor="middle" fill="#df5054" stroke="#df5054" stroke-width="0.4" transform="translate(658.7 0) scale(0.68 1) translate(-658.7 0)">R</text>
<text x="679.4" y="219.0" font-size="14" text-anchor="middle" fill="#df5054" stroke="#df5054" stroke-width="0.4" transform="translate(679.4 0) scale(0.68 1) translate(-679.4 0)">E</text>
<text x="700.1" y="219.0" font-size="14" text-anchor="middle" fill="#df5054" stroke="#df5054" stroke-width="0.4" transform="translate(700.1 0) scale(0.68 1) translate(-700.1 0)">E</text>
<text x="720.8" y="219.0" font-size="14" text-anchor="middle" fill="#df5054" stroke="#df5054" stroke-width="0.4" transform="translate(720.8 0) scale(0.68 1) translate(-720.8 0)">E</text>
<text x="741.5" y="219.0" font-size="14" text-anchor="middle" fill="#df5054" stroke="#df5054" stroke-width="0.4" transform="translate(741.5 0) scale(0.68 1) translate(-741.5 0)">E</text>
<text x="762.2" y="219.0" font-size="14" text-anchor="middle" fill="#df5054" stroke="#df5054" stroke-width="0.4" transform="translate(762.2 0) scale(0.68 1) translate(-762.2 0)">E</text>
<text x="782.9" y="219.0" font-size="14" text-anchor="middle" fill="#df5054" stroke="#df5054" stroke-width="0.4" transform="translate(782.9 0) scale(0.68 1) translate(-782.9 0)">E</text>
<text x="803.6" y="219.0" font-size="14" text-anchor="middle" fill="#df5054" stroke="#df5054" stroke-width="0.4" transform="translate(803.6 0) scale(0.68 1) translate(-803.6 0)">E</text>
<text x="824.2" y="219.0" font-size="14" text-anchor="middle" fill="#df5054" stroke="#df5054" stroke-width="0.4" transform="translate(824.2 0) scale(0.68 1) translate(-824.2 0)">G</text>
<text x="845.0" y="219.0" font-size="14" text-anchor="middle" fill="#df5054" stroke="#df5054" stroke-width="0.4" transform="translate(845.0 0) scale(0.68 1) translate(-845.0 0)">K</text>
<rect x="447.0" y="222.7" width="403.8" height="2.2" fill="#3a3636"/>
<text x="415.7" y="237.0" font-size="14" textLength="25.6" lengthAdjust="spacingAndGlyphs" fill="#353030" stroke="#353030" stroke-width="0.55">1452</text>
<text x="870.7" y="237.0" font-size="14" textLength="24.8" lengthAdjust="spacingAndGlyphs" fill="#353030" stroke="#353030" stroke-width="0.55">1511</text>
<text x="448.2" y="237.0" font-size="14" textLength="414.0" lengthAdjust="spacingAndGlyphs" fill="#3d3838" stroke="#3d3838" stroke-width="0.7">UAUCAGGAGACAGGCGAAGAAGAGAAUGAAAGGCAGGAUGGAGAGGAGUACAAAAAAGUG</text>
<text x="451.6" y="254.8" font-size="14" text-anchor="middle" fill="#df5054" stroke="#df5054" stroke-width="0.4" transform="translate(451.6 0) scale(0.68 1) translate(-451.6 0)">Y</text>
<text x="472.4" y="254.8" font-size="14" text-anchor="middle" fill="#df5054" stroke="#df5054" stroke-width="0.4" transform="translate(472.4 0) scale(0.68 1) translate(-472.4 0)">Q</text>
<text x="493.1" y="254.8" font-size="14" text-anchor="middle" fill="#df5054" stroke="#df5054" stroke-width="0.4" transform="translate(493.1 0) scale(0.68 1) translate(-493.1 0)">E</text>
<text x="513.8" y="254.8" font-size="14" text-anchor="middle" fill="#df5054" stroke="#df5054" stroke-width="0.4" transform="translate(513.8 0) scale(0.68 1) translate(-513.8 0)">T</text>
<text x="534.5" y="254.8" font-size="14" text-anchor="middle" fill="#df5054" stroke="#df5054" stroke-width="0.4" transform="translate(534.5 0) scale(0.68 1) translate(-534.5 0)">G</text>
<text x="555.1" y="254.8" font-size="14" text-anchor="middle" fill="#df5054" stroke="#df5054" stroke-width="0.4" transform="translate(555.1 0) scale(0.68 1) translate(-555.1 0)">E</text>
<text x="575.9" y="254.8" font-size="14" text-anchor="middle" fill="#df5054" stroke="#df5054" stroke-width="0.4" transform="translate(575.9 0) scale(0.68 1) translate(-575.9 0)">E</text>
<text x="596.5" y="254.8" font-size="14" text-anchor="middle" fill="#df5054" stroke="#df5054" stroke-width="0.4" transform="translate(596.5 0) scale(0.68 1) translate(-596.5 0)">E</text>
<text x="617.2" y="254.8" font-size="14" text-anchor="middle" fill="#df5054" stroke="#df5054" stroke-width="0.4" transform="translate(617.2 0) scale(0.68 1) translate(-617.2 0)">N</text>
<text x="638.0" y="254.8" font-size="14" text-anchor="middle" fill="#df5054" stroke="#df5054" stroke-width="0.4" transform="translate(638.0 0) scale(0.68 1) translate(-638.0 0)">E</text>
<text x="658.7" y="254.8" font-size="14" text-anchor="middle" fill="#df5054" stroke="#df5054" stroke-width="0.4" transform="translate(658.7 0) scale(0.68 1) translate(-658.7 0)">R</text>
<text x="679.4" y="254.8" font-size="14" text-anchor="middle" fill="#df5054" stroke="#df5054" stroke-width="0.4" transform="translate(679.4 0) scale(0.68 1) translate(-679.4 0)">Q</text>
<text x="700.1" y="254.8" font-size="14" text-anchor="middle" fill="#df5054" stroke="#df5054" stroke-width="0.4" transform="translate(700.1 0) scale(0.68 1) translate(-700.1 0)">D</text>
<text x="720.8" y="254.8" font-size="14" text-anchor="middle" fill="#df5054" stroke="#df5054" stroke-width="0.4" transform="translate(720.8 0) scale(0.68 1) translate(-720.8 0)">G</text>
<text x="741.5" y="254.8" font-size="14" text-anchor="middle" fill="#df5054" stroke="#df5054" stroke-width="0.4" transform="translate(741.5 0) scale(0.68 1) translate(-741.5 0)">E</text>
<text x="762.2" y="254.8" font-size="14" text-anchor="middle" fill="#df5054" stroke="#df5054" stroke-width="0.4" transform="translate(762.2 0) scale(0.68 1) translate(-762.2 0)">E</text>
<text x="782.9" y="254.8" font-size="14" text-anchor="middle" fill="#df5054" stroke="#df5054" stroke-width="0.4" transform="translate(782.9 0) scale(0.68 1) translate(-782.9 0)">Y</text>
<text x="803.6" y="254.8" font-size="14" text-anchor="middle" fill="#df5054" stroke="#df5054" stroke-width="0.4" transform="translate(803.6 0) scale(0.68 1) translate(-803.6 0)">K</text>
<text x="824.2" y="254.8" font-size="14" text-anchor="middle" fill="#df5054" stroke="#df5054" stroke-width="0.4" transform="translate(824.2 0) scale(0.68 1) translate(-824.2 0)">K</text>
<text x="845.0" y="254.8" font-size="14" text-anchor="middle" fill="#df5054" stroke="#df5054" stroke-width="0.4" transform="translate(845.0 0) scale(0.68 1) translate(-845.0 0)">V</text>
<rect x="447.0" y="258.5" width="403.8" height="2.2" fill="#3a3636"/>
<rect x="538.5" y="58.9" width="14.299999999999955" height="2.0" fill="#1e1a1a"/>
<text x="414.3" y="415.5" font-size="14" textLength="25.6" lengthAdjust="spacingAndGlyphs" fill="#353030" stroke="#353030" stroke-width="0.55">1152</text>
<text x="869.3" y="415.5" font-size="14" textLength="24.8" lengthAdjust="spacingAndGlyphs" fill="#353030" stroke="#353030" stroke-width="0.55">1211</text>
<text x="447.0" y="415.5" font-size="14" textLength="413.9" lengthAdjust="spacingAndGlyphs" fill="#3d3838" stroke="#3d3838" stroke-width="0.7">GAAGGAGAAGGGGAGGGGAGGAAGGAGAAGGGGAGGGGGAAGAGGAGGAAGGAGAAGGGG</text>
<text x="450.4" y="433.5" font-size="14" text-anchor="middle" fill="#df5054" stroke="#df5054" stroke-width="0.4" transform="translate(450.4 0) scale(0.68 1) translate(-450.4 0)">E</text>
<text x="471.1" y="433.5" font-size="14" text-anchor="middle" fill="#df5054" stroke="#df5054" stroke-width="0.4" transform="translate(471.1 0) scale(0.68 1) translate(-471.1 0)">G</text>
<text x="491.8" y="433.5" font-size="14" text-anchor="middle" fill="#df5054" stroke="#df5054" stroke-width="0.4" transform="translate(491.8 0) scale(0.68 1) translate(-491.8 0)">E</text>
<text x="512.5" y="433.5" font-size="14" text-anchor="middle" fill="#df5054" stroke="#df5054" stroke-width="0.4" transform="translate(512.5 0) scale(0.68 1) translate(-512.5 0)">G</text>
<text x="533.2" y="433.5" font-size="14" text-anchor="middle" fill="#df5054" stroke="#df5054" stroke-width="0.4" transform="translate(533.2 0) scale(0.68 1) translate(-533.2 0)">E</text>
<text x="553.9" y="433.5" font-size="14" text-anchor="middle" fill="#df5054" stroke="#df5054" stroke-width="0.4" transform="translate(553.9 0) scale(0.68 1) translate(-553.9 0)">G</text>
<text x="574.6" y="433.5" font-size="14" text-anchor="middle" fill="#df5054" stroke="#df5054" stroke-width="0.4" transform="translate(574.6 0) scale(0.68 1) translate(-574.6 0)">R</text>
<text x="595.3" y="433.5" font-size="14" text-anchor="middle" fill="#df5054" stroke="#df5054" stroke-width="0.4" transform="translate(595.3 0) scale(0.68 1) translate(-595.3 0)">K</text>
<text x="616.0" y="433.5" font-size="14" text-anchor="middle" fill="#df5054" stroke="#df5054" stroke-width="0.4" transform="translate(616.0 0) scale(0.68 1) translate(-616.0 0)">E</text>
<text x="636.7" y="433.5" font-size="14" text-anchor="middle" fill="#df5054" stroke="#df5054" stroke-width="0.4" transform="translate(636.7 0) scale(0.68 1) translate(-636.7 0)">K</text>
<text x="657.4" y="433.5" font-size="14" text-anchor="middle" fill="#df5054" stroke="#df5054" stroke-width="0.4" transform="translate(657.4 0) scale(0.68 1) translate(-657.4 0)">G</text>
<text x="678.1" y="433.5" font-size="14" text-anchor="middle" fill="#df5054" stroke="#df5054" stroke-width="0.4" transform="translate(678.1 0) scale(0.68 1) translate(-678.1 0)">R</text>
<text x="698.8" y="433.5" font-size="14" text-anchor="middle" fill="#df5054" stroke="#df5054" stroke-width="0.4" transform="translate(698.8 0) scale(0.68 1) translate(-698.8 0)">G</text>
<text x="719.5" y="433.5" font-size="14" text-anchor="middle" fill="#df5054" stroke="#df5054" stroke-width="0.4" transform="translate(719.5 0) scale(0.68 1) translate(-719.5 0)">K</text>
<text x="740.2" y="433.5" font-size="14" text-anchor="middle" fill="#df5054" stroke="#df5054" stroke-width="0.4" transform="translate(740.2 0) scale(0.68 1) translate(-740.2 0)">R</text>
<text x="760.9" y="433.5" font-size="14" text-anchor="middle" fill="#df5054" stroke="#df5054" stroke-width="0.4" transform="translate(760.9 0) scale(0.68 1) translate(-760.9 0)">R</text>
<text x="781.6" y="433.5" font-size="14" text-anchor="middle" fill="#df5054" stroke="#df5054" stroke-width="0.4" transform="translate(781.6 0) scale(0.68 1) translate(-781.6 0)">K</text>
<text x="802.3" y="433.5" font-size="14" text-anchor="middle" fill="#df5054" stroke="#df5054" stroke-width="0.4" transform="translate(802.3 0) scale(0.68 1) translate(-802.3 0)">E</text>
<text x="823.0" y="433.5" font-size="14" text-anchor="middle" fill="#df5054" stroke="#df5054" stroke-width="0.4" transform="translate(823.0 0) scale(0.68 1) translate(-823.0 0)">K</text>
<text x="843.7" y="433.5" font-size="14" text-anchor="middle" fill="#df5054" stroke="#df5054" stroke-width="0.4" transform="translate(843.7 0) scale(0.68 1) translate(-843.7 0)">G</text>
<rect x="547.5" y="436.2" width="302.1" height="2.2" fill="#3a3636"/>
<text x="414.3" y="451.3" font-size="14" textLength="25.6" lengthAdjust="spacingAndGlyphs" fill="#353030" stroke="#353030" stroke-width="0.55">1212</text>
<text x="869.3" y="451.3" font-size="14" textLength="24.8" lengthAdjust="spacingAndGlyphs" fill="#353030" stroke="#353030" stroke-width="0.55">1271</text>
<text x="447.0" y="451.3" font-size="14" textLength="413.9" lengthAdjust="spacingAndGlyphs" fill="#3d3838" stroke="#3d3838" stroke-width="0.7">AGGGGGAAGAGGAGGAAGGGGAAGAAGAAGGGGAGGAAGAAGGAGAGGGAGAGGAAGAAG</text>
<text x="450.4" y="469.3" font-size="14" text-anchor="middle" fill="#df5054" stroke="#df5054" stroke-width="0.4" transform="translate(450.4 0) scale(0.68 1) translate(-450.4 0)">R</text>
<text x="471.1" y="469.3" font-size="14" text-anchor="middle" fill="#df5054" stroke="#df5054" stroke-width="0.4" transform="translate(471.1 0) scale(0.68 1) translate(-471.1 0)">G</text>
<text x="491.8" y="469.3" font-size="14" text-anchor="middle" fill="#df5054" stroke="#df5054" stroke-width="0.4" transform="translate(491.8 0) scale(0.68 1) translate(-491.8 0)">K</text>
<text x="512.5" y="469.3" font-size="14" text-anchor="middle" fill="#df5054" stroke="#df5054" stroke-width="0.4" transform="translate(512.5 0) scale(0.68 1) translate(-512.5 0)">R</text>
<text x="533.2" y="469.3" font-size="14" text-anchor="middle" fill="#df5054" stroke="#df5054" stroke-width="0.4" transform="translate(533.2 0) scale(0.68 1) translate(-533.2 0)">R</text>
<text x="553.9" y="469.3" font-size="14" text-anchor="middle" fill="#df5054" stroke="#df5054" stroke-width="0.4" transform="translate(553.9 0) scale(0.68 1) translate(-553.9 0)">K</text>
<text x="574.6" y="469.3" font-size="14" text-anchor="middle" fill="#df5054" stroke="#df5054" stroke-width="0.4" transform="translate(574.6 0) scale(0.68 1) translate(-574.6 0)">G</text>
<text x="595.3" y="469.3" font-size="14" text-anchor="middle" fill="#df5054" stroke="#df5054" stroke-width="0.4" transform="translate(595.3 0) scale(0.68 1) translate(-595.3 0)">K</text>
<text x="616.0" y="469.3" font-size="14" text-anchor="middle" fill="#df5054" stroke="#df5054" stroke-width="0.4" transform="translate(616.0 0) scale(0.68 1) translate(-616.0 0)">K</text>
<text x="636.7" y="469.3" font-size="14" text-anchor="middle" fill="#df5054" stroke="#df5054" stroke-width="0.4" transform="translate(636.7 0) scale(0.68 1) translate(-636.7 0)">K</text>
<text x="657.4" y="469.3" font-size="14" text-anchor="middle" fill="#df5054" stroke="#df5054" stroke-width="0.4" transform="translate(657.4 0) scale(0.68 1) translate(-657.4 0)">G</text>
<text x="678.1" y="469.3" font-size="14" text-anchor="middle" fill="#df5054" stroke="#df5054" stroke-width="0.4" transform="translate(678.1 0) scale(0.68 1) translate(-678.1 0)">R</text>
<text x="698.8" y="469.3" font-size="14" text-anchor="middle" fill="#df5054" stroke="#df5054" stroke-width="0.4" transform="translate(698.8 0) scale(0.68 1) translate(-698.8 0)">K</text>
<text x="719.5" y="469.3" font-size="14" text-anchor="middle" fill="#df5054" stroke="#df5054" stroke-width="0.4" transform="translate(719.5 0) scale(0.68 1) translate(-719.5 0)">K</text>
<text x="740.2" y="469.3" font-size="14" text-anchor="middle" fill="#df5054" stroke="#df5054" stroke-width="0.4" transform="translate(740.2 0) scale(0.68 1) translate(-740.2 0)">E</text>
<text x="760.9" y="469.3" font-size="14" text-anchor="middle" fill="#df5054" stroke="#df5054" stroke-width="0.4" transform="translate(760.9 0) scale(0.68 1) translate(-760.9 0)">R</text>
<text x="781.6" y="469.3" font-size="14" text-anchor="middle" fill="#df5054" stroke="#df5054" stroke-width="0.4" transform="translate(781.6 0) scale(0.68 1) translate(-781.6 0)">E</text>
<text x="802.3" y="469.3" font-size="14" text-anchor="middle" fill="#df5054" stroke="#df5054" stroke-width="0.4" transform="translate(802.3 0) scale(0.68 1) translate(-802.3 0)">R</text>
<text x="823.0" y="469.3" font-size="14" text-anchor="middle" fill="#df5054" stroke="#df5054" stroke-width="0.4" transform="translate(823.0 0) scale(0.68 1) translate(-823.0 0)">K</text>
<text x="843.7" y="469.3" font-size="14" text-anchor="middle" fill="#df5054" stroke="#df5054" stroke-width="0.4" transform="translate(843.7 0) scale(0.68 1) translate(-843.7 0)">K</text>
<rect x="447.0" y="472.0" width="402.6" height="2.2" fill="#3a3636"/>
<text x="414.3" y="487.2" font-size="14" textLength="25.6" lengthAdjust="spacingAndGlyphs" fill="#353030" stroke="#353030" stroke-width="0.55">1272</text>
<text x="869.3" y="487.2" font-size="14" textLength="24.8" lengthAdjust="spacingAndGlyphs" fill="#353030" stroke="#353030" stroke-width="0.55">1331</text>
<text x="447.0" y="487.2" font-size="14" textLength="413.9" lengthAdjust="spacingAndGlyphs" fill="#3d3838" stroke="#3d3838" stroke-width="0.7">GGGAGGGAGAAGGGGAGGAAGAAGAGGAAGGGGAAGUGGAAGGGGAGGUGGAAGGGGAGG</text>
<text x="450.4" y="505.2" font-size="14" text-anchor="middle" fill="#df5054" stroke="#df5054" stroke-width="0.4" transform="translate(450.4 0) scale(0.68 1) translate(-450.4 0)">G</text>
<text x="471.1" y="505.2" font-size="14" text-anchor="middle" fill="#df5054" stroke="#df5054" stroke-width="0.4" transform="translate(471.1 0) scale(0.68 1) translate(-471.1 0)">R</text>
<text x="491.8" y="505.2" font-size="14" text-anchor="middle" fill="#df5054" stroke="#df5054" stroke-width="0.4" transform="translate(491.8 0) scale(0.68 1) translate(-491.8 0)">E</text>
<text x="512.5" y="505.2" font-size="14" text-anchor="middle" fill="#df5054" stroke="#df5054" stroke-width="0.4" transform="translate(512.5 0) scale(0.68 1) translate(-512.5 0)">K</text>
<text x="533.2" y="505.2" font-size="14" text-anchor="middle" fill="#df5054" stroke="#df5054" stroke-width="0.4" transform="translate(533.2 0) scale(0.68 1) translate(-533.2 0)">G</text>
<text x="553.9" y="505.2" font-size="14" text-anchor="middle" fill="#df5054" stroke="#df5054" stroke-width="0.4" transform="translate(553.9 0) scale(0.68 1) translate(-553.9 0)">R</text>
<text x="574.6" y="505.2" font-size="14" text-anchor="middle" fill="#df5054" stroke="#df5054" stroke-width="0.4" transform="translate(574.6 0) scale(0.68 1) translate(-574.6 0)">K</text>
<text x="595.3" y="505.2" font-size="14" text-anchor="middle" fill="#df5054" stroke="#df5054" stroke-width="0.4" transform="translate(595.3 0) scale(0.68 1) translate(-595.3 0)">K</text>
<text x="616.0" y="505.2" font-size="14" text-anchor="middle" fill="#df5054" stroke="#df5054" stroke-width="0.4" transform="translate(616.0 0) scale(0.68 1) translate(-616.0 0)">R</text>
<text x="636.7" y="505.2" font-size="14" text-anchor="middle" fill="#df5054" stroke="#df5054" stroke-width="0.4" transform="translate(636.7 0) scale(0.68 1) translate(-636.7 0)">K</text>
<text x="657.4" y="505.2" font-size="14" text-anchor="middle" fill="#df5054" stroke="#df5054" stroke-width="0.4" transform="translate(657.4 0) scale(0.68 1) translate(-657.4 0)">G</text>
<text x="678.1" y="505.2" font-size="14" text-anchor="middle" fill="#df5054" stroke="#df5054" stroke-width="0.4" transform="translate(678.1 0) scale(0.68 1) translate(-678.1 0)">K</text>
<text x="698.8" y="505.2" font-size="14" text-anchor="middle" fill="#df5054" stroke="#df5054" stroke-width="0.4" transform="translate(698.8 0) scale(0.68 1) translate(-698.8 0)">W</text>
<text x="719.5" y="505.2" font-size="14" text-anchor="middle" fill="#df5054" stroke="#df5054" stroke-width="0.4" transform="translate(719.5 0) scale(0.68 1) translate(-719.5 0)">K</text>
<text x="740.2" y="505.2" font-size="14" text-anchor="middle" fill="#df5054" stroke="#df5054" stroke-width="0.4" transform="translate(740.2 0) scale(0.68 1) translate(-740.2 0)">G</text>
<text x="760.9" y="505.2" font-size="14" text-anchor="middle" fill="#df5054" stroke="#df5054" stroke-width="0.4" transform="translate(760.9 0) scale(0.68 1) translate(-760.9 0)">R</text>
<text x="781.6" y="505.2" font-size="14" text-anchor="middle" fill="#df5054" stroke="#df5054" stroke-width="0.4" transform="translate(781.6 0) scale(0.68 1) translate(-781.6 0)">W</text>
<text x="802.3" y="505.2" font-size="14" text-anchor="middle" fill="#df5054" stroke="#df5054" stroke-width="0.4" transform="translate(802.3 0) scale(0.68 1) translate(-802.3 0)">K</text>
<text x="823.0" y="505.2" font-size="14" text-anchor="middle" fill="#df5054" stroke="#df5054" stroke-width="0.4" transform="translate(823.0 0) scale(0.68 1) translate(-823.0 0)">G</text>
<text x="843.7" y="505.2" font-size="14" text-anchor="middle" fill="#df5054" stroke="#df5054" stroke-width="0.4" transform="translate(843.7 0) scale(0.68 1) translate(-843.7 0)">R</text>
<rect x="447.0" y="507.9" width="402.6" height="2.2" fill="#3a3636"/>
<text x="414.3" y="523.0" font-size="14" textLength="25.6" lengthAdjust="spacingAndGlyphs" fill="#353030" stroke="#353030" stroke-width="0.55">1332</text>
<text x="869.3" y="523.0" font-size="14" textLength="24.8" lengthAdjust="spacingAndGlyphs" fill="#353030" stroke="#353030" stroke-width="0.55">1391</text>
<text x="447.0" y="523.0" font-size="14" textLength="413.9" lengthAdjust="spacingAndGlyphs" fill="#3d3838" stroke="#3d3838" stroke-width="0.7">AAGGAGAGGGGGAAGGAGAGGAAGAGGAAGGAGAGGAGGAAGGAGAAGAAAGGGAAAAGG</text>
<text x="457.7" y="541.0" font-size="14" text-anchor="middle" fill="#df5054" stroke="#df5054" stroke-width="0.4" transform="translate(457.7 0) scale(0.68 1) translate(-457.7 0)">K</text>
<text x="478.4" y="541.0" font-size="14" text-anchor="middle" fill="#df5054" stroke="#df5054" stroke-width="0.4" transform="translate(478.4 0) scale(0.68 1) translate(-478.4 0)">E</text>
<text x="499.1" y="541.0" font-size="14" text-anchor="middle" fill="#df5054" stroke="#df5054" stroke-width="0.4" transform="translate(499.1 0) scale(0.68 1) translate(-499.1 0)">R</text>
<text x="519.8" y="541.0" font-size="14" text-anchor="middle" fill="#df5054" stroke="#df5054" stroke-width="0.4" transform="translate(519.8 0) scale(0.68 1) translate(-519.8 0)">G</text>
<text x="540.5" y="541.0" font-size="14" text-anchor="middle" fill="#df5054" stroke="#df5054" stroke-width="0.4" transform="translate(540.5 0) scale(0.68 1) translate(-540.5 0)">K</text>
<text x="561.2" y="541.0" font-size="14" text-anchor="middle" fill="#df5054" stroke="#df5054" stroke-width="0.4" transform="translate(561.2 0) scale(0.68 1) translate(-561.2 0)">E</text>
<text x="581.9" y="541.0" font-size="14" text-anchor="middle" fill="#df5054" stroke="#df5054" stroke-width="0.4" transform="translate(581.9 0) scale(0.68 1) translate(-581.9 0)">R</text>
<text x="602.6" y="541.0" font-size="14" text-anchor="middle" fill="#df5054" stroke="#df5054" stroke-width="0.4" transform="translate(602.6 0) scale(0.68 1) translate(-602.6 0)">K</text>
<text x="623.3" y="541.0" font-size="14" text-anchor="middle" fill="#df5054" stroke="#df5054" stroke-width="0.4" transform="translate(623.3 0) scale(0.68 1) translate(-623.3 0)">R</text>
<text x="644.0" y="541.0" font-size="14" text-anchor="middle" fill="#df5054" stroke="#df5054" stroke-width="0.4" transform="translate(644.0 0) scale(0.68 1) translate(-644.0 0)">K</text>
<text x="664.7" y="541.0" font-size="14" text-anchor="middle" fill="#df5054" stroke="#df5054" stroke-width="0.4" transform="translate(664.7 0) scale(0.68 1) translate(-664.7 0)">E</text>
<text x="685.4" y="541.0" font-size="14" text-anchor="middle" fill="#df5054" stroke="#df5054" stroke-width="0.4" transform="translate(685.4 0) scale(0.68 1) translate(-685.4 0)">R</text>
<text x="706.1" y="541.0" font-size="14" text-anchor="middle" fill="#df5054" stroke="#df5054" stroke-width="0.4" transform="translate(706.1 0) scale(0.68 1) translate(-706.1 0)">R</text>
<text x="726.8" y="541.0" font-size="14" text-anchor="middle" fill="#df5054" stroke="#df5054" stroke-width="0.4" transform="translate(726.8 0) scale(0.68 1) translate(-726.8 0)">K</text>
<text x="747.5" y="541.0" font-size="14" text-anchor="middle" fill="#df5054" stroke="#df5054" stroke-width="0.4" transform="translate(747.5 0) scale(0.68 1) translate(-747.5 0)">E</text>
<text x="768.2" y="541.0" font-size="14" text-anchor="middle" fill="#df5054" stroke="#df5054" stroke-width="0.4" transform="translate(768.2 0) scale(0.68 1) translate(-768.2 0)">K</text>
<text x="788.9" y="541.0" font-size="14" text-anchor="middle" fill="#df5054" stroke="#df5054" stroke-width="0.4" transform="translate(788.9 0) scale(0.68 1) translate(-788.9 0)">K</text>
<text x="802.3" y="541.0" font-size="14" text-anchor="middle" fill="#df5054" stroke="#df5054" stroke-width="0.4" transform="translate(802.3 0) scale(0.68 1) translate(-802.3 0)">G</text>
<text x="823.0" y="541.0" font-size="14" text-anchor="middle" fill="#df5054" stroke="#df5054" stroke-width="0.4" transform="translate(823.0 0) scale(0.68 1) translate(-823.0 0)">K</text>
<text x="843.7" y="541.0" font-size="14" text-anchor="middle" fill="#df5054" stroke="#df5054" stroke-width="0.4" transform="translate(843.7 0) scale(0.68 1) translate(-843.7 0)">R</text>
<rect x="447.0" y="543.7" width="402.6" height="2.2" fill="#3a3636"/>
<text x="414.3" y="558.9" font-size="14" textLength="25.6" lengthAdjust="spacingAndGlyphs" fill="#353030" stroke="#353030" stroke-width="0.55">1392</text>
<text x="869.3" y="558.9" font-size="14" textLength="24.8" lengthAdjust="spacingAndGlyphs" fill="#353030" stroke="#353030" stroke-width="0.55">1451</text>
<text x="447.0" y="558.9" font-size="14" textLength="413.9" lengthAdjust="spacingAndGlyphs" fill="#3d3838" stroke="#3d3838" stroke-width="0.7">AGGGGGAAGGAGAAGAAAACAGGAGGAACAGAGAAGAGGAGGAGGAAGAAGAGGGGAAGU</text>
<text x="450.4" y="576.9" font-size="14" text-anchor="middle" fill="#df5054" stroke="#df5054" stroke-width="0.4" transform="translate(450.4 0) scale(0.68 1) translate(-450.4 0)">R</text>
<text x="471.1" y="576.9" font-size="14" text-anchor="middle" fill="#df5054" stroke="#df5054" stroke-width="0.4" transform="translate(471.1 0) scale(0.68 1) translate(-471.1 0)">G</text>
<text x="491.8" y="576.9" font-size="14" text-anchor="middle" fill="#df5054" stroke="#df5054" stroke-width="0.4" transform="translate(491.8 0) scale(0.68 1) translate(-491.8 0)">K</text>
<text x="512.5" y="576.9" font-size="14" text-anchor="middle" fill="#df5054" stroke="#df5054" stroke-width="0.4" transform="translate(512.5 0) scale(0.68 1) translate(-512.5 0)">E</text>
<text x="533.2" y="576.9" font-size="14" text-anchor="middle" fill="#df5054" stroke="#df5054" stroke-width="0.4" transform="translate(533.2 0) scale(0.68 1) translate(-533.2 0)">K</text>
<text x="553.9" y="576.9" font-size="14" text-anchor="middle" fill="#df5054" stroke="#df5054" stroke-width="0.4" transform="translate(553.9 0) scale(0.68 1) translate(-553.9 0)">K</text>
<text x="574.6" y="576.9" font-size="14" text-anchor="middle" fill="#df5054" stroke="#df5054" stroke-width="0.4" transform="translate(574.6 0) scale(0.68 1) translate(-574.6 0)">T</text>
<text x="595.3" y="576.9" font-size="14" text-anchor="middle" fill="#df5054" stroke="#df5054" stroke-width="0.4" transform="translate(595.3 0) scale(0.68 1) translate(-595.3 0)">G</text>
<text x="616.0" y="576.9" font-size="14" text-anchor="middle" fill="#df5054" stroke="#df5054" stroke-width="0.4" transform="translate(616.0 0) scale(0.68 1) translate(-616.0 0)">G</text>
<text x="636.7" y="576.9" font-size="14" text-anchor="middle" fill="#df5054" stroke="#df5054" stroke-width="0.4" transform="translate(636.7 0) scale(0.68 1) translate(-636.7 0)">T</text>
<text x="657.4" y="576.9" font-size="14" text-anchor="middle" fill="#df5054" stroke="#df5054" stroke-width="0.4" transform="translate(657.4 0) scale(0.68 1) translate(-657.4 0)">E</text>
<text x="678.1" y="576.9" font-size="14" text-anchor="middle" fill="#df5054" stroke="#df5054" stroke-width="0.4" transform="translate(678.1 0) scale(0.68 1) translate(-678.1 0)">K</text>
<text x="698.8" y="576.9" font-size="14" text-anchor="middle" fill="#df5054" stroke="#df5054" stroke-width="0.4" transform="translate(698.8 0) scale(0.68 1) translate(-698.8 0)">R</text>
<text x="719.5" y="576.9" font-size="14" text-anchor="middle" fill="#df5054" stroke="#df5054" stroke-width="0.4" transform="translate(719.5 0) scale(0.68 1) translate(-719.5 0)">R</text>
<text x="740.2" y="576.9" font-size="14" text-anchor="middle" fill="#df5054" stroke="#df5054" stroke-width="0.4" transform="translate(740.2 0) scale(0.68 1) translate(-740.2 0)">R</text>
<text x="760.9" y="576.9" font-size="14" text-anchor="middle" fill="#df5054" stroke="#df5054" stroke-width="0.4" transform="translate(760.9 0) scale(0.68 1) translate(-760.9 0)">K</text>
<text x="781.6" y="576.9" font-size="14" text-anchor="middle" fill="#df5054" stroke="#df5054" stroke-width="0.4" transform="translate(781.6 0) scale(0.68 1) translate(-781.6 0)">K</text>
<text x="802.3" y="576.9" font-size="14" text-anchor="middle" fill="#df5054" stroke="#df5054" stroke-width="0.4" transform="translate(802.3 0) scale(0.68 1) translate(-802.3 0)">R</text>
<text x="823.0" y="576.9" font-size="14" text-anchor="middle" fill="#df5054" stroke="#df5054" stroke-width="0.4" transform="translate(823.0 0) scale(0.68 1) translate(-823.0 0)">G</text>
<text x="843.7" y="576.9" font-size="14" text-anchor="middle" fill="#df5054" stroke="#df5054" stroke-width="0.4" transform="translate(843.7 0) scale(0.68 1) translate(-843.7 0)">S</text>
<rect x="447.0" y="579.6" width="402.6" height="2.2" fill="#3a3636"/>
<text x="414.3" y="594.7" font-size="14" textLength="25.6" lengthAdjust="spacingAndGlyphs" fill="#353030" stroke="#353030" stroke-width="0.55">1452</text>
<text x="869.3" y="594.7" font-size="14" textLength="24.8" lengthAdjust="spacingAndGlyphs" fill="#353030" stroke="#353030" stroke-width="0.55">1511</text>
<text x="447.0" y="594.7" font-size="14" textLength="413.9" lengthAdjust="spacingAndGlyphs" fill="#3d3838" stroke="#3d3838" stroke-width="0.7">AUCAGGAGACAGGCGAAGAAGAGAAUGAAAGGCAGGAUGGAGAGGAGUACAAAAAAGUGA</text>
<text x="450.4" y="612.7" font-size="14" text-anchor="middle" fill="#df5054" stroke="#df5054" stroke-width="0.4" transform="translate(450.4 0) scale(0.68 1) translate(-450.4 0)">I</text>
<text x="471.1" y="612.7" font-size="14" text-anchor="middle" fill="#df5054" stroke="#df5054" stroke-width="0.4" transform="translate(471.1 0) scale(0.68 1) translate(-471.1 0)">R</text>
<text x="491.8" y="612.7" font-size="14" text-anchor="middle" fill="#df5054" stroke="#df5054" stroke-width="0.4" transform="translate(491.8 0) scale(0.68 1) translate(-491.8 0)">R</text>
<text x="512.5" y="612.7" font-size="14" text-anchor="middle" fill="#df5054" stroke="#df5054" stroke-width="0.4" transform="translate(512.5 0) scale(0.68 1) translate(-512.5 0)">Q</text>
<text x="533.2" y="612.7" font-size="14" text-anchor="middle" fill="#df5054" stroke="#df5054" stroke-width="0.4" transform="translate(533.2 0) scale(0.68 1) translate(-533.2 0)">A</text>
<text x="553.9" y="612.7" font-size="14" text-anchor="middle" fill="#df5054" stroke="#df5054" stroke-width="0.4" transform="translate(553.9 0) scale(0.68 1) translate(-553.9 0)">K</text>
<text x="574.6" y="612.7" font-size="14" text-anchor="middle" fill="#df5054" stroke="#df5054" stroke-width="0.4" transform="translate(574.6 0) scale(0.68 1) translate(-574.6 0)">K</text>
<text x="595.3" y="612.7" font-size="14" text-anchor="middle" fill="#df5054" stroke="#df5054" stroke-width="0.4" transform="translate(595.3 0) scale(0.68 1) translate(-595.3 0)">R</text>
<text x="616.0" y="612.7" font-size="14" text-anchor="middle" fill="#df5054" stroke="#df5054" stroke-width="0.4" transform="translate(616.0 0) scale(0.68 1) translate(-616.0 0)">M</text>
<text x="636.7" y="612.7" font-size="14" text-anchor="middle" fill="#df5054" stroke="#df5054" stroke-width="0.4" transform="translate(636.7 0) scale(0.68 1) translate(-636.7 0)">K</text>
<text x="657.4" y="612.7" font-size="14" text-anchor="middle" fill="#df5054" stroke="#df5054" stroke-width="0.4" transform="translate(657.4 0) scale(0.68 1) translate(-657.4 0)">G</text>
<text x="678.1" y="612.7" font-size="14" text-anchor="middle" fill="#df5054" stroke="#df5054" stroke-width="0.4" transform="translate(678.1 0) scale(0.68 1) translate(-678.1 0)">R</text>
<text x="698.8" y="612.7" font-size="14" text-anchor="middle" fill="#df5054" stroke="#df5054" stroke-width="0.4" transform="translate(698.8 0) scale(0.68 1) translate(-698.8 0)">M</text>
<text x="719.5" y="612.7" font-size="14" text-anchor="middle" fill="#df5054" stroke="#df5054" stroke-width="0.4" transform="translate(719.5 0) scale(0.68 1) translate(-719.5 0)">E</text>
<text x="740.2" y="612.7" font-size="14" text-anchor="middle" fill="#df5054" stroke="#df5054" stroke-width="0.4" transform="translate(740.2 0) scale(0.68 1) translate(-740.2 0)">R</text>
<text x="760.9" y="612.7" font-size="14" text-anchor="middle" fill="#df5054" stroke="#df5054" stroke-width="0.4" transform="translate(760.9 0) scale(0.68 1) translate(-760.9 0)">S</text>
<text x="781.6" y="612.7" font-size="14" text-anchor="middle" fill="#df5054" stroke="#df5054" stroke-width="0.4" transform="translate(781.6 0) scale(0.68 1) translate(-781.6 0)">T</text>
<text x="802.3" y="612.7" font-size="14" text-anchor="middle" fill="#df5054" stroke="#df5054" stroke-width="0.4" transform="translate(802.3 0) scale(0.68 1) translate(-802.3 0)">K</text>
<text x="823.0" y="612.7" font-size="14" text-anchor="middle" fill="#df5054" stroke="#df5054" stroke-width="0.4" transform="translate(823.0 0) scale(0.68 1) translate(-823.0 0)">K</text>
<text x="843.7" y="612.7" font-size="14" text-anchor="middle" fill="#df5054" stroke="#df5054" stroke-width="0.4" transform="translate(843.7 0) scale(0.68 1) translate(-843.7 0)">*</text>
<rect x="447.0" y="615.4" width="402.6" height="2.2" fill="#3a3636"/>
<rect x="535.2" y="417.0" width="11.799999999999955" height="2.0" fill="#1e1a1a"/>
</g>
</svg></body></html>
